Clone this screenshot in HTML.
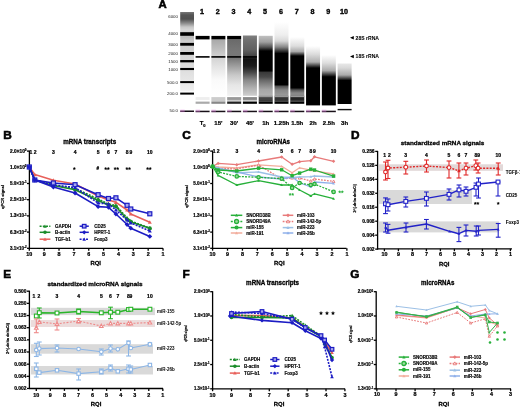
<!DOCTYPE html>
<html><head><meta charset="utf-8"><style>
html,body{margin:0;padding:0;background:#fff;width:520px;height:407px;overflow:hidden}
svg{display:block;will-change:transform}
text{font-family:"Liberation Sans",sans-serif}
</style></head><body>
<svg width="520" height="407" viewBox="0 0 520 407">
<rect width="520" height="407" fill="#fff"/>
<text x="162.50" y="8.30" font-size="11.3" text-anchor="middle" font-weight="bold" fill="#000" stroke="#000" stroke-width="0.60" >A</text>
<linearGradient id="g1" gradientUnits="userSpaceOnUse" x1="0" y1="12" x2="0" y2="92"><stop offset="0.0000" stop-color="#777"/><stop offset="0.0375" stop-color="#555"/><stop offset="0.0875" stop-color="#505050"/><stop offset="0.1375" stop-color="#888"/><stop offset="0.1875" stop-color="#c8c8c8"/><stop offset="0.2250" stop-color="#d8d8d8"/><stop offset="0.3125" stop-color="#bbb"/><stop offset="0.3625" stop-color="#ccc"/><stop offset="0.7250" stop-color="#dedede"/><stop offset="0.9750" stop-color="#eee"/><stop offset="1.0000" stop-color="#fff"/></linearGradient>
<rect x="180.20" y="12.00" width="13.80" height="80.00" fill="url(#g1)" />
<rect x="180.20" y="32.20" width="13.80" height="3.60" fill="#000" />
<rect x="180.20" y="42.90" width="13.80" height="2.80" fill="#000" />
<rect x="180.20" y="52.00" width="13.80" height="2.80" fill="#000" />
<rect x="180.20" y="60.05" width="13.80" height="2.30" fill="#000" />
<rect x="180.20" y="67.95" width="13.80" height="2.10" fill="#000" />
<rect x="180.20" y="81.10" width="13.80" height="2.00" fill="#000" />
<rect x="180.20" y="92.60" width="13.80" height="2.00" fill="#000" />
<rect x="180.20" y="110.50" width="13.80" height="1.50" fill="#181018" />
<text x="178.00" y="17.70" font-size="4.4" text-anchor="end" font-weight="normal" fill="#222" >6000</text>
<text x="178.00" y="35.10" font-size="4.4" text-anchor="end" font-weight="normal" fill="#222" >4000</text>
<text x="178.00" y="45.60" font-size="4.4" text-anchor="end" font-weight="normal" fill="#222" >3000</text>
<text x="178.00" y="55.10" font-size="4.4" text-anchor="end" font-weight="normal" fill="#222" >2000</text>
<text x="178.00" y="62.80" font-size="4.4" text-anchor="end" font-weight="normal" fill="#222" >1500</text>
<text x="178.00" y="70.50" font-size="4.4" text-anchor="end" font-weight="normal" fill="#222" >1000</text>
<text x="178.00" y="84.30" font-size="4.4" text-anchor="end" font-weight="normal" fill="#222" >500.0</text>
<text x="178.00" y="95.30" font-size="4.4" text-anchor="end" font-weight="normal" fill="#222" >200.0</text>
<text x="178.00" y="112.40" font-size="4.4" text-anchor="end" font-weight="normal" fill="#222" >50.0</text>
<rect x="195.60" y="35.90" width="14.00" height="3.50" fill="#000" />
<rect x="195.60" y="56.10" width="14.00" height="1.60" fill="#000" />
<rect x="195.60" y="95.80" width="14.00" height="1.40" fill="#fff" />
<rect x="195.60" y="97.10" width="14.00" height="2.90" fill="#eee" />
<rect x="195.60" y="99.90" width="14.00" height="1.80" fill="#fff" />
<rect x="195.60" y="101.60" width="14.00" height="2.20" fill="#aaa" />
<rect x="195.60" y="110.70" width="14.00" height="1.50" fill="#181018" />
<text x="202.00" y="14.30" font-size="7.2" text-anchor="middle" font-weight="bold" fill="#000" stroke="#000" stroke-width="0.35" >1</text>
<linearGradient id="g2" gradientUnits="userSpaceOnUse" x1="0" y1="39.4" x2="0" y2="96"><stop offset="0.0000" stop-color="#a8a8a8"/><stop offset="0.1873" stop-color="#c0c0c0"/><stop offset="0.3286" stop-color="#d4d4d4"/><stop offset="0.5053" stop-color="#e6e6e6"/><stop offset="0.7173" stop-color="#fafafa"/><stop offset="1.0000" stop-color="#fff"/></linearGradient>
<rect x="211.38" y="39.40" width="14.00" height="56.60" fill="url(#g2)" />
<rect x="211.38" y="35.90" width="14.00" height="3.50" fill="#000" />
<rect x="211.38" y="56.10" width="14.00" height="1.60" fill="#000" />
<rect x="211.38" y="95.80" width="14.00" height="1.40" fill="#fff" />
<rect x="211.38" y="97.10" width="14.00" height="2.90" fill="#ccc" />
<rect x="211.38" y="99.90" width="14.00" height="1.80" fill="#ccc" />
<rect x="211.38" y="101.60" width="14.00" height="2.20" fill="#888" />
<rect x="211.38" y="110.70" width="14.00" height="1.50" fill="#181018" />
<text x="217.78" y="14.30" font-size="7.2" text-anchor="middle" font-weight="bold" fill="#000" stroke="#000" stroke-width="0.35" >2</text>
<linearGradient id="g3" gradientUnits="userSpaceOnUse" x1="0" y1="39.4" x2="0" y2="96"><stop offset="0.0000" stop-color="#6a6a6a"/><stop offset="0.2226" stop-color="#787878"/><stop offset="0.3286" stop-color="#777"/><stop offset="0.4523" stop-color="#999"/><stop offset="0.6290" stop-color="#c8c8c8"/><stop offset="0.8057" stop-color="#e6e6e6"/><stop offset="1.0000" stop-color="#f2f2f2"/></linearGradient>
<rect x="227.16" y="39.40" width="14.00" height="56.60" fill="url(#g3)" />
<rect x="227.16" y="35.90" width="14.00" height="3.50" fill="#000" />
<rect x="227.16" y="56.10" width="14.00" height="1.60" fill="#000" />
<rect x="227.16" y="95.80" width="14.00" height="1.40" fill="#fff" />
<rect x="227.16" y="97.10" width="14.00" height="2.90" fill="#999" />
<rect x="227.16" y="99.90" width="14.00" height="1.80" fill="#ccc" />
<rect x="227.16" y="101.60" width="14.00" height="2.20" fill="#222" />
<rect x="227.16" y="110.70" width="14.00" height="1.50" fill="#181018" />
<text x="233.56" y="14.30" font-size="7.2" text-anchor="middle" font-weight="bold" fill="#000" stroke="#000" stroke-width="0.35" >3</text>
<linearGradient id="g4" gradientUnits="userSpaceOnUse" x1="0" y1="35.5" x2="0" y2="96"><stop offset="0.0000" stop-color="#808080"/><stop offset="0.0744" stop-color="#707070"/><stop offset="0.2397" stop-color="#606060"/><stop offset="0.3388" stop-color="#444"/><stop offset="0.3884" stop-color="#111"/><stop offset="0.5041" stop-color="#1c1c1c"/><stop offset="0.6033" stop-color="#444"/><stop offset="0.7355" stop-color="#888"/><stop offset="0.8678" stop-color="#b0b0b0"/><stop offset="1.0000" stop-color="#d0d0d0"/></linearGradient>
<rect x="242.94" y="35.50" width="14.00" height="60.50" fill="url(#g4)" />
<rect x="242.94" y="56.10" width="14.00" height="1.60" fill="#000" />
<rect x="242.94" y="95.80" width="14.00" height="1.40" fill="#fff" />
<rect x="242.94" y="97.10" width="14.00" height="2.90" fill="#888" />
<rect x="242.94" y="99.90" width="14.00" height="1.80" fill="#ccc" />
<rect x="242.94" y="101.60" width="14.00" height="2.20" fill="#000" />
<rect x="242.94" y="110.70" width="14.00" height="1.50" fill="#181018" />
<text x="249.34" y="14.30" font-size="7.2" text-anchor="middle" font-weight="bold" fill="#000" stroke="#000" stroke-width="0.35" >4</text>
<linearGradient id="g5" gradientUnits="userSpaceOnUse" x1="0" y1="35.8" x2="0" y2="97"><stop offset="0.0000" stop-color="#c0c0c0"/><stop offset="0.1013" stop-color="#a0a0a0"/><stop offset="0.1830" stop-color="#555"/><stop offset="0.2484" stop-color="#000"/><stop offset="0.5719" stop-color="#000"/><stop offset="0.5997" stop-color="#3a3a3a"/><stop offset="0.6732" stop-color="#4a4a4a"/><stop offset="0.7222" stop-color="#666"/><stop offset="0.8039" stop-color="#888"/><stop offset="0.8856" stop-color="#a8a8a8"/><stop offset="0.9673" stop-color="#b0b0b0"/><stop offset="1.0000" stop-color="#999"/></linearGradient>
<rect x="258.72" y="35.80" width="14.00" height="61.20" fill="url(#g5)" />
<rect x="258.72" y="95.80" width="14.00" height="1.40" fill="#999" />
<rect x="258.72" y="97.10" width="14.00" height="2.90" fill="#444" />
<rect x="258.72" y="99.90" width="14.00" height="1.80" fill="#3a3a3a" />
<rect x="258.72" y="101.60" width="14.00" height="2.20" fill="#000" />
<rect x="258.72" y="110.70" width="14.00" height="1.50" fill="#181018" />
<text x="265.12" y="14.30" font-size="7.2" text-anchor="middle" font-weight="bold" fill="#000" stroke="#000" stroke-width="0.35" >5</text>
<linearGradient id="g6" gradientUnits="userSpaceOnUse" x1="0" y1="22" x2="0" y2="97"><stop offset="0.0000" stop-color="#fff"/><stop offset="0.1733" stop-color="#eee"/><stop offset="0.2533" stop-color="#d8d8d8"/><stop offset="0.3333" stop-color="#888"/><stop offset="0.4200" stop-color="#000"/><stop offset="0.8347" stop-color="#000"/><stop offset="0.8600" stop-color="#555"/><stop offset="0.9067" stop-color="#888"/><stop offset="0.9733" stop-color="#999"/><stop offset="1.0000" stop-color="#777"/></linearGradient>
<rect x="274.50" y="22.00" width="14.00" height="75.00" fill="url(#g6)" />
<rect x="274.50" y="95.80" width="14.00" height="1.40" fill="#999" />
<rect x="274.50" y="97.10" width="14.00" height="2.90" fill="#333" />
<rect x="274.50" y="99.90" width="14.00" height="1.80" fill="#3a3a3a" />
<rect x="274.50" y="101.60" width="14.00" height="2.20" fill="#000" />
<rect x="274.50" y="110.70" width="14.00" height="1.50" fill="#181018" />
<text x="280.90" y="14.30" font-size="7.2" text-anchor="middle" font-weight="bold" fill="#000" stroke="#000" stroke-width="0.35" >6</text>
<linearGradient id="g7" gradientUnits="userSpaceOnUse" x1="0" y1="37" x2="0" y2="97"><stop offset="0.0000" stop-color="#fff"/><stop offset="0.1500" stop-color="#ddd"/><stop offset="0.2417" stop-color="#aaa"/><stop offset="0.3167" stop-color="#000"/><stop offset="0.8467" stop-color="#000"/><stop offset="0.8833" stop-color="#555"/><stop offset="0.9333" stop-color="#888"/><stop offset="0.9667" stop-color="#888"/><stop offset="1.0000" stop-color="#666"/></linearGradient>
<rect x="290.28" y="37.00" width="14.00" height="60.00" fill="url(#g7)" />
<rect x="290.28" y="95.80" width="14.00" height="1.40" fill="#999" />
<rect x="290.28" y="97.10" width="14.00" height="2.90" fill="#222" />
<rect x="290.28" y="99.90" width="14.00" height="1.80" fill="#3a3a3a" />
<rect x="290.28" y="101.60" width="14.00" height="2.20" fill="#000" />
<rect x="290.28" y="110.70" width="14.00" height="1.50" fill="#181018" />
<text x="296.68" y="14.30" font-size="7.2" text-anchor="middle" font-weight="bold" fill="#000" stroke="#000" stroke-width="0.35" >7</text>
<linearGradient id="g8" gradientUnits="userSpaceOnUse" x1="0" y1="46" x2="0" y2="96"><stop offset="0.0000" stop-color="#fff"/><stop offset="0.1600" stop-color="#ddd"/><stop offset="0.3200" stop-color="#b0b0b0"/><stop offset="0.4400" stop-color="#000"/><stop offset="1.0000" stop-color="#000"/></linearGradient>
<rect x="306.06" y="46.00" width="14.00" height="50.00" fill="url(#g8)" />
<rect x="306.06" y="96.00" width="14.00" height="9.40" fill="#000" />
<rect x="306.06" y="110.70" width="14.00" height="1.50" fill="#181018" />
<text x="312.46" y="14.30" font-size="7.2" text-anchor="middle" font-weight="bold" fill="#000" stroke="#000" stroke-width="0.35" >8</text>
<linearGradient id="g9" gradientUnits="userSpaceOnUse" x1="0" y1="55" x2="0" y2="96"><stop offset="0.0000" stop-color="#fff"/><stop offset="0.1951" stop-color="#ddd"/><stop offset="0.3805" stop-color="#aaa"/><stop offset="0.5317" stop-color="#000"/><stop offset="1.0000" stop-color="#000"/></linearGradient>
<rect x="321.84" y="55.00" width="14.00" height="41.00" fill="url(#g9)" />
<rect x="321.84" y="96.00" width="14.00" height="9.40" fill="#000" />
<rect x="321.84" y="110.70" width="14.00" height="1.50" fill="#181018" />
<text x="328.24" y="14.30" font-size="7.2" text-anchor="middle" font-weight="bold" fill="#000" stroke="#000" stroke-width="0.35" >9</text>
<linearGradient id="g10" gradientUnits="userSpaceOnUse" x1="0" y1="63.5" x2="0" y2="96"><stop offset="0.0000" stop-color="#e8e8e8"/><stop offset="0.1385" stop-color="#d8d8d8"/><stop offset="0.3538" stop-color="#aaa"/><stop offset="0.5231" stop-color="#000"/><stop offset="1.0000" stop-color="#000"/></linearGradient>
<rect x="337.62" y="63.50" width="14.00" height="32.50" fill="url(#g10)" />
<rect x="337.62" y="96.00" width="14.00" height="8.00" fill="#000" />
<rect x="337.62" y="108.90" width="14.00" height="1.40" fill="#111" />
<text x="344.02" y="14.30" font-size="7.2" text-anchor="middle" font-weight="bold" fill="#000" stroke="#000" stroke-width="0.35" >10</text>
<rect x="180.20" y="109.60" width="4.50" height="2.60" fill="#e080e0" opacity="0.4"/>
<rect x="195.60" y="109.60" width="4.50" height="2.60" fill="#e080e0" opacity="0.4"/>
<rect x="211.38" y="109.60" width="4.50" height="2.60" fill="#e080e0" opacity="0.4"/>
<rect x="227.16" y="109.60" width="4.50" height="2.60" fill="#e080e0" opacity="0.4"/>
<rect x="242.94" y="109.60" width="4.50" height="2.60" fill="#e080e0" opacity="0.4"/>
<rect x="258.72" y="109.60" width="4.50" height="2.60" fill="#e080e0" opacity="0.4"/>
<rect x="274.50" y="109.60" width="4.50" height="2.60" fill="#e080e0" opacity="0.4"/>
<rect x="290.28" y="109.60" width="4.50" height="2.60" fill="#e080e0" opacity="0.4"/>
<rect x="306.06" y="109.60" width="4.50" height="2.60" fill="#e080e0" opacity="0.4"/>
<rect x="321.84" y="109.60" width="4.50" height="2.60" fill="#e080e0" opacity="0.4"/>
<text x="202.60" y="125.00" font-size="6.0" text-anchor="middle" font-weight="bold" fill="#000" stroke="#000" stroke-width="0.22" >T<tspan font-size="4" dy="1.6">0</tspan></text>
<text x="218.38" y="125.00" font-size="6.0" text-anchor="middle" font-weight="bold" fill="#000" stroke="#000" stroke-width="0.22" >15'</text>
<text x="234.16" y="125.00" font-size="6.0" text-anchor="middle" font-weight="bold" fill="#000" stroke="#000" stroke-width="0.22" >30'</text>
<text x="249.94" y="125.00" font-size="6.0" text-anchor="middle" font-weight="bold" fill="#000" stroke="#000" stroke-width="0.22" >45'</text>
<text x="265.72" y="125.00" font-size="6.0" text-anchor="middle" font-weight="bold" fill="#000" stroke="#000" stroke-width="0.22" >1h</text>
<text x="281.50" y="125.00" font-size="6.0" text-anchor="middle" font-weight="bold" fill="#000" stroke="#000" stroke-width="0.22" >1.25h</text>
<text x="297.28" y="125.00" font-size="6.0" text-anchor="middle" font-weight="bold" fill="#000" stroke="#000" stroke-width="0.22" >1.5h</text>
<text x="313.06" y="125.00" font-size="6.0" text-anchor="middle" font-weight="bold" fill="#000" stroke="#000" stroke-width="0.22" >2h</text>
<text x="328.84" y="125.00" font-size="6.0" text-anchor="middle" font-weight="bold" fill="#000" stroke="#000" stroke-width="0.22" >2.5h</text>
<text x="344.62" y="125.00" font-size="6.0" text-anchor="middle" font-weight="bold" fill="#000" stroke="#000" stroke-width="0.22" >3h</text>
<path d="M350,37.7 L353.8,35.900000000000006 L353.8,39.5Z" fill="#000"/>
<text x="355.60" y="39.50" font-size="5.0" text-anchor="start" font-weight="bold" fill="#000" stroke="#000" stroke-width="0.05" textLength="23.4" lengthAdjust="spacingAndGlyphs">28S rRNA</text>
<path d="M350,56.5 L353.8,54.7 L353.8,58.3Z" fill="#000"/>
<text x="355.60" y="58.30" font-size="5.0" text-anchor="start" font-weight="bold" fill="#000" stroke="#000" stroke-width="0.05" textLength="23.4" lengthAdjust="spacingAndGlyphs">18S rRNA</text>
<text x="7.60" y="139.10" font-size="11.8" text-anchor="middle" font-weight="bold" fill="#000" stroke="#000" stroke-width="0.60" >B</text>
<line x1="29.40" y1="150.60" x2="29.40" y2="248.80" stroke="#000" stroke-width="1.3" />
<line x1="27.00" y1="151.10" x2="29.40" y2="151.10" stroke="#000" stroke-width="1.3" />
<text x="26.60" y="152.50" font-size="4.9" text-anchor="end" font-weight="bold" fill="#000" stroke="#000" stroke-width="0.22" textLength="16.5" lengthAdjust="spacingAndGlyphs">2.0×10<tspan font-size="3.2" dy="-1.6">0</tspan></text>
<line x1="27.00" y1="167.30" x2="29.40" y2="167.30" stroke="#000" stroke-width="1.3" />
<text x="26.60" y="168.70" font-size="4.9" text-anchor="end" font-weight="bold" fill="#000" stroke="#000" stroke-width="0.22" textLength="16.5" lengthAdjust="spacingAndGlyphs">1.0×10<tspan font-size="3.2" dy="-1.6">0</tspan></text>
<line x1="27.00" y1="183.50" x2="29.40" y2="183.50" stroke="#000" stroke-width="1.3" />
<text x="26.60" y="184.90" font-size="4.9" text-anchor="end" font-weight="bold" fill="#000" stroke="#000" stroke-width="0.22" textLength="16.5" lengthAdjust="spacingAndGlyphs">5.0×10<tspan font-size="3.2" dy="-1.6">-1</tspan></text>
<line x1="27.00" y1="199.70" x2="29.40" y2="199.70" stroke="#000" stroke-width="1.3" />
<text x="26.60" y="201.10" font-size="4.9" text-anchor="end" font-weight="bold" fill="#000" stroke="#000" stroke-width="0.22" textLength="16.5" lengthAdjust="spacingAndGlyphs">2.5×10<tspan font-size="3.2" dy="-1.6">-1</tspan></text>
<line x1="27.00" y1="215.90" x2="29.40" y2="215.90" stroke="#000" stroke-width="1.3" />
<text x="26.60" y="217.30" font-size="4.9" text-anchor="end" font-weight="bold" fill="#000" stroke="#000" stroke-width="0.22" textLength="16.5" lengthAdjust="spacingAndGlyphs">1.3×10<tspan font-size="3.2" dy="-1.6">-1</tspan></text>
<line x1="27.00" y1="232.10" x2="29.40" y2="232.10" stroke="#000" stroke-width="1.3" />
<text x="26.60" y="233.50" font-size="4.9" text-anchor="end" font-weight="bold" fill="#000" stroke="#000" stroke-width="0.22" textLength="16.5" lengthAdjust="spacingAndGlyphs">6.3×10<tspan font-size="3.2" dy="-1.6">-2</tspan></text>
<line x1="27.00" y1="248.30" x2="29.40" y2="248.30" stroke="#000" stroke-width="1.3" />
<text x="26.60" y="249.70" font-size="4.9" text-anchor="end" font-weight="bold" fill="#000" stroke="#000" stroke-width="0.22" textLength="16.5" lengthAdjust="spacingAndGlyphs">3.1×10<tspan font-size="3.2" dy="-1.6">-2</tspan></text>
<line x1="29.00" y1="248.30" x2="163.00" y2="248.30" stroke="#000" stroke-width="1.3" />
<line x1="29.30" y1="248.30" x2="29.30" y2="250.70" stroke="#000" stroke-width="1.3" />
<text x="29.30" y="256.40" font-size="5.4" text-anchor="middle" font-weight="bold" fill="#000" stroke="#000" stroke-width="0.24" >10</text>
<line x1="44.16" y1="248.30" x2="44.16" y2="250.70" stroke="#000" stroke-width="1.3" />
<text x="44.16" y="256.40" font-size="5.4" text-anchor="middle" font-weight="bold" fill="#000" stroke="#000" stroke-width="0.24" >9</text>
<line x1="59.02" y1="248.30" x2="59.02" y2="250.70" stroke="#000" stroke-width="1.3" />
<text x="59.02" y="256.40" font-size="5.4" text-anchor="middle" font-weight="bold" fill="#000" stroke="#000" stroke-width="0.24" >8</text>
<line x1="73.88" y1="248.30" x2="73.88" y2="250.70" stroke="#000" stroke-width="1.3" />
<text x="73.88" y="256.40" font-size="5.4" text-anchor="middle" font-weight="bold" fill="#000" stroke="#000" stroke-width="0.24" >7</text>
<line x1="88.74" y1="248.30" x2="88.74" y2="250.70" stroke="#000" stroke-width="1.3" />
<text x="88.74" y="256.40" font-size="5.4" text-anchor="middle" font-weight="bold" fill="#000" stroke="#000" stroke-width="0.24" >6</text>
<line x1="103.60" y1="248.30" x2="103.60" y2="250.70" stroke="#000" stroke-width="1.3" />
<text x="103.60" y="256.40" font-size="5.4" text-anchor="middle" font-weight="bold" fill="#000" stroke="#000" stroke-width="0.24" >5</text>
<line x1="118.46" y1="248.30" x2="118.46" y2="250.70" stroke="#000" stroke-width="1.3" />
<text x="118.46" y="256.40" font-size="5.4" text-anchor="middle" font-weight="bold" fill="#000" stroke="#000" stroke-width="0.24" >4</text>
<line x1="133.32" y1="248.30" x2="133.32" y2="250.70" stroke="#000" stroke-width="1.3" />
<text x="133.32" y="256.40" font-size="5.4" text-anchor="middle" font-weight="bold" fill="#000" stroke="#000" stroke-width="0.24" >3</text>
<line x1="148.18" y1="248.30" x2="148.18" y2="250.70" stroke="#000" stroke-width="1.3" />
<text x="148.18" y="256.40" font-size="5.4" text-anchor="middle" font-weight="bold" fill="#000" stroke="#000" stroke-width="0.24" >2</text>
<line x1="163.04" y1="248.30" x2="163.04" y2="250.70" stroke="#000" stroke-width="1.3" />
<text x="163.04" y="256.40" font-size="5.4" text-anchor="middle" font-weight="bold" fill="#000" stroke="#000" stroke-width="0.24" >1</text>
<text x="95.70" y="265.40" font-size="5.9" text-anchor="middle" font-weight="bold" fill="#000" stroke="#000" stroke-width="0.27" >RQI</text>
<text x="4.40" y="197.00" font-size="4.0" text-anchor="middle" font-weight="bold" fill="#000" stroke="#000" stroke-width="0.18" transform="rotate(-90 4.4 197)" textLength="24" lengthAdjust="spacingAndGlyphs">qPCR signal</text>
<text x="89.70" y="143.90" font-size="6.4" text-anchor="middle" font-weight="bold" fill="#000" stroke="#000" stroke-width="0.29" textLength="53" lengthAdjust="spacingAndGlyphs">mRNA transcripts</text>
<text x="30.90" y="153.60" font-size="5.0" text-anchor="middle" font-weight="bold" fill="#000" stroke="#000" stroke-width="0.22" >1</text>
<text x="35.10" y="153.60" font-size="5.0" text-anchor="middle" font-weight="bold" fill="#000" stroke="#000" stroke-width="0.22" >2</text>
<text x="53.37" y="153.60" font-size="5.0" text-anchor="middle" font-weight="bold" fill="#000" stroke="#000" stroke-width="0.22" >3</text>
<text x="75.07" y="153.60" font-size="5.0" text-anchor="middle" font-weight="bold" fill="#000" stroke="#000" stroke-width="0.22" >4</text>
<text x="98.10" y="153.60" font-size="5.0" text-anchor="middle" font-weight="bold" fill="#000" stroke="#000" stroke-width="0.22" >5</text>
<text x="108.50" y="153.60" font-size="5.0" text-anchor="middle" font-weight="bold" fill="#000" stroke="#000" stroke-width="0.22" >6</text>
<text x="115.93" y="153.60" font-size="5.0" text-anchor="middle" font-weight="bold" fill="#000" stroke="#000" stroke-width="0.22" >7</text>
<text x="127.08" y="153.60" font-size="5.0" text-anchor="middle" font-weight="bold" fill="#000" stroke="#000" stroke-width="0.22" >8</text>
<text x="130.79" y="153.60" font-size="5.0" text-anchor="middle" font-weight="bold" fill="#000" stroke="#000" stroke-width="0.22" >9</text>
<text x="149.81" y="153.60" font-size="5.0" text-anchor="middle" font-weight="bold" fill="#000" stroke="#000" stroke-width="0.22" >10</text>
<polygon points="74.30,167.17 74.72,168.02 75.66,168.16 74.98,168.82 75.14,169.75 74.30,169.31 73.46,169.75 73.62,168.82 72.94,168.16 73.88,168.02" fill="#000" stroke="#000" stroke-width="0.3"/>
<text x="97.70" y="170.40" font-size="4.6" text-anchor="middle" font-weight="bold" fill="#000" stroke="#000" stroke-width="0.21" >#</text>
<polygon points="105.70,167.17 106.12,168.02 107.06,168.16 106.38,168.82 106.54,169.75 105.70,169.31 104.86,169.75 105.02,168.82 104.34,168.16 105.28,168.02" fill="#000" stroke="#000" stroke-width="0.3"/>
<polygon points="108.30,167.17 108.72,168.02 109.66,168.16 108.98,168.82 109.14,169.75 108.30,169.31 107.46,169.75 107.62,168.82 106.94,168.16 107.88,168.02" fill="#000" stroke="#000" stroke-width="0.3"/>
<polygon points="115.10,167.17 115.52,168.02 116.46,168.16 115.78,168.82 115.94,169.75 115.10,169.31 114.26,169.75 114.42,168.82 113.74,168.16 114.68,168.02" fill="#000" stroke="#000" stroke-width="0.3"/>
<polygon points="117.70,167.17 118.12,168.02 119.06,168.16 118.38,168.82 118.54,169.75 117.70,169.31 116.86,169.75 117.02,168.82 116.34,168.16 117.28,168.02" fill="#000" stroke="#000" stroke-width="0.3"/>
<polygon points="126.90,167.17 127.32,168.02 128.26,168.16 127.58,168.82 127.74,169.75 126.90,169.31 126.06,169.75 126.22,168.82 125.54,168.16 126.48,168.02" fill="#000" stroke="#000" stroke-width="0.3"/>
<polygon points="129.50,167.17 129.92,168.02 130.86,168.16 130.18,168.82 130.34,169.75 129.50,169.31 128.66,169.75 128.82,168.82 128.14,168.16 129.08,168.02" fill="#000" stroke="#000" stroke-width="0.3"/>
<polygon points="147.60,167.17 148.02,168.02 148.96,168.16 148.28,168.82 148.44,169.75 147.60,169.31 146.76,169.75 146.92,168.82 146.24,168.16 147.18,168.02" fill="#000" stroke="#000" stroke-width="0.3"/>
<polygon points="150.20,167.17 150.62,168.02 151.56,168.16 150.88,168.82 151.04,169.75 150.20,169.31 149.36,169.75 149.52,168.82 148.84,168.16 149.78,168.02" fill="#000" stroke="#000" stroke-width="0.3"/>
<polyline points="29.30,167.00 34.80,174.60 53.37,180.30 75.07,184.00 98.10,196.00 108.50,200.00 115.93,202.30 127.08,210.00 130.79,214.00 149.81,222.20" fill="none" stroke="#e8605a" stroke-width="1.6" stroke-linejoin="round" />
<path d="M29.30,165.00 L31.30,168.60 L27.30,168.60Z" fill="#e8605a"/>
<path d="M34.80,172.60 L36.80,176.20 L32.80,176.20Z" fill="#e8605a"/>
<path d="M53.37,178.30 L55.37,181.90 L51.37,181.90Z" fill="#e8605a"/>
<path d="M75.07,182.00 L77.07,185.60 L73.07,185.60Z" fill="#e8605a"/>
<path d="M98.10,194.00 L100.10,197.60 L96.10,197.60Z" fill="#e8605a"/>
<path d="M108.50,198.00 L110.50,201.60 L106.50,201.60Z" fill="#e8605a"/>
<path d="M115.93,200.30 L117.93,203.90 L113.93,203.90Z" fill="#e8605a"/>
<path d="M127.08,208.00 L129.08,211.60 L125.08,211.60Z" fill="#e8605a"/>
<path d="M130.79,212.00 L132.79,215.60 L128.79,215.60Z" fill="#e8605a"/>
<path d="M149.81,220.20 L151.81,223.80 L147.81,223.80Z" fill="#e8605a"/>
<polyline points="29.30,167.00 34.80,180.00 53.37,185.00 75.07,188.50 98.10,199.00 108.50,204.00 115.93,205.50 127.08,218.00 130.79,221.00 149.81,228.20" fill="none" stroke="#1a8c2a" stroke-width="1.6" stroke-linejoin="round" stroke-dasharray="2,1.2" />
<path d="M29.30,165.00 L31.30,168.60 L27.30,168.60Z" fill="#1a8c2a"/>
<path d="M34.80,178.00 L36.80,181.60 L32.80,181.60Z" fill="#1a8c2a"/>
<path d="M53.37,183.00 L55.37,186.60 L51.37,186.60Z" fill="#1a8c2a"/>
<path d="M75.07,186.50 L77.07,190.10 L73.07,190.10Z" fill="#1a8c2a"/>
<path d="M98.10,197.00 L100.10,200.60 L96.10,200.60Z" fill="#1a8c2a"/>
<path d="M108.50,202.00 L110.50,205.60 L106.50,205.60Z" fill="#1a8c2a"/>
<path d="M115.93,203.50 L117.93,207.10 L113.93,207.10Z" fill="#1a8c2a"/>
<path d="M127.08,216.00 L129.08,219.60 L125.08,219.60Z" fill="#1a8c2a"/>
<path d="M130.79,219.00 L132.79,222.60 L128.79,222.60Z" fill="#1a8c2a"/>
<path d="M149.81,226.20 L151.81,229.80 L147.81,229.80Z" fill="#1a8c2a"/>
<polyline points="29.30,167.00 34.80,180.00 53.37,185.50 75.07,189.70 98.10,200.50 108.50,205.00 115.93,206.60 127.08,219.50 130.79,222.00 149.81,228.20" fill="none" stroke="#1a8c2a" stroke-width="1.6" stroke-linejoin="round" />
<circle cx="29.30" cy="167.00" r="2.00" fill="#1a8c2a"/>
<circle cx="34.80" cy="180.00" r="2.00" fill="#1a8c2a"/>
<circle cx="53.37" cy="185.50" r="2.00" fill="#1a8c2a"/>
<circle cx="75.07" cy="189.70" r="2.00" fill="#1a8c2a"/>
<circle cx="98.10" cy="200.50" r="2.00" fill="#1a8c2a"/>
<circle cx="108.50" cy="205.00" r="2.00" fill="#1a8c2a"/>
<circle cx="115.93" cy="206.60" r="2.00" fill="#1a8c2a"/>
<circle cx="127.08" cy="219.50" r="2.00" fill="#1a8c2a"/>
<circle cx="130.79" cy="222.00" r="2.00" fill="#1a8c2a"/>
<circle cx="149.81" cy="228.20" r="2.00" fill="#1a8c2a"/>
<polyline points="29.30,167.00 34.80,180.00 53.37,185.00 75.07,187.50 98.10,203.00 108.50,204.00 115.93,210.00 127.08,220.00 130.79,223.00 149.81,231.00" fill="none" stroke="#1c1cc4" stroke-width="1.6" stroke-linejoin="round" stroke-dasharray="2,1.2" />
<path d="M29.30,165.00 L31.30,168.60 L27.30,168.60Z" fill="#1c1cc4"/>
<path d="M34.80,178.00 L36.80,181.60 L32.80,181.60Z" fill="#1c1cc4"/>
<path d="M53.37,183.00 L55.37,186.60 L51.37,186.60Z" fill="#1c1cc4"/>
<path d="M75.07,185.50 L77.07,189.10 L73.07,189.10Z" fill="#1c1cc4"/>
<path d="M98.10,201.00 L100.10,204.60 L96.10,204.60Z" fill="#1c1cc4"/>
<path d="M108.50,202.00 L110.50,205.60 L106.50,205.60Z" fill="#1c1cc4"/>
<path d="M115.93,208.00 L117.93,211.60 L113.93,211.60Z" fill="#1c1cc4"/>
<path d="M127.08,218.00 L129.08,221.60 L125.08,221.60Z" fill="#1c1cc4"/>
<path d="M130.79,221.00 L132.79,224.60 L128.79,224.60Z" fill="#1c1cc4"/>
<path d="M149.81,229.00 L151.81,232.60 L147.81,232.60Z" fill="#1c1cc4"/>
<polyline points="29.30,167.00 34.80,180.00 53.37,183.00 75.07,184.70 98.10,194.70 108.50,198.50 115.93,197.80 127.08,205.30 130.79,209.00 149.81,213.80" fill="none" stroke="#1c1cc4" stroke-width="1.6" stroke-linejoin="round" />
<rect x="27.30" y="165.00" width="4.00" height="4.00" fill="#a8a8ec" stroke="#1c1cc4" stroke-width="1.2"/>
<rect x="32.80" y="178.00" width="4.00" height="4.00" fill="#a8a8ec" stroke="#1c1cc4" stroke-width="1.2"/>
<rect x="51.37" y="181.00" width="4.00" height="4.00" fill="#a8a8ec" stroke="#1c1cc4" stroke-width="1.2"/>
<rect x="73.07" y="182.70" width="4.00" height="4.00" fill="#a8a8ec" stroke="#1c1cc4" stroke-width="1.2"/>
<rect x="96.10" y="192.70" width="4.00" height="4.00" fill="#a8a8ec" stroke="#1c1cc4" stroke-width="1.2"/>
<rect x="106.50" y="196.50" width="4.00" height="4.00" fill="#a8a8ec" stroke="#1c1cc4" stroke-width="1.2"/>
<rect x="113.93" y="195.80" width="4.00" height="4.00" fill="#a8a8ec" stroke="#1c1cc4" stroke-width="1.2"/>
<rect x="125.08" y="203.30" width="4.00" height="4.00" fill="#a8a8ec" stroke="#1c1cc4" stroke-width="1.2"/>
<rect x="128.79" y="207.00" width="4.00" height="4.00" fill="#a8a8ec" stroke="#1c1cc4" stroke-width="1.2"/>
<rect x="147.81" y="211.80" width="4.00" height="4.00" fill="#a8a8ec" stroke="#1c1cc4" stroke-width="1.2"/>
<polyline points="29.30,167.00 34.80,180.00 53.37,187.00 75.07,193.00 98.10,206.60 108.50,207.30 115.93,214.00 127.08,224.50 130.79,228.20 149.81,236.40" fill="none" stroke="#1c1cc4" stroke-width="1.6" stroke-linejoin="round" />
<path d="M29.30,164.60 L31.70,167.00 L29.30,169.40 L26.90,167.00Z" fill="#1c1cc4"/>
<path d="M34.80,177.60 L37.20,180.00 L34.80,182.40 L32.40,180.00Z" fill="#1c1cc4"/>
<path d="M53.37,184.60 L55.77,187.00 L53.37,189.40 L50.97,187.00Z" fill="#1c1cc4"/>
<path d="M75.07,190.60 L77.47,193.00 L75.07,195.40 L72.67,193.00Z" fill="#1c1cc4"/>
<path d="M98.10,204.20 L100.50,206.60 L98.10,209.00 L95.70,206.60Z" fill="#1c1cc4"/>
<path d="M108.50,204.90 L110.90,207.30 L108.50,209.70 L106.10,207.30Z" fill="#1c1cc4"/>
<path d="M115.93,211.60 L118.33,214.00 L115.93,216.40 L113.53,214.00Z" fill="#1c1cc4"/>
<path d="M127.08,222.10 L129.48,224.50 L127.08,226.90 L124.68,224.50Z" fill="#1c1cc4"/>
<path d="M130.79,225.80 L133.19,228.20 L130.79,230.60 L128.39,228.20Z" fill="#1c1cc4"/>
<path d="M149.81,234.00 L152.21,236.40 L149.81,238.80 L147.41,236.40Z" fill="#1c1cc4"/>
<line x1="39.60" y1="226.20" x2="50.40" y2="226.20" stroke="#1a8c2a" stroke-width="1.5" stroke-dasharray="2,1.2" />
<path d="M45.00,224.40 L46.80,227.64 L43.20,227.64Z" fill="#1a8c2a"/>
<text x="55.00" y="227.80" font-size="4.5" text-anchor="start" font-weight="bold" fill="#000" stroke="#000" stroke-width="0.14" >GAPDH</text>
<line x1="39.60" y1="232.30" x2="50.40" y2="232.30" stroke="#1a8c2a" stroke-width="1.5" />
<circle cx="45.00" cy="232.30" r="1.80" fill="#1a8c2a"/>
<text x="55.00" y="233.90" font-size="4.5" text-anchor="start" font-weight="bold" fill="#000" stroke="#000" stroke-width="0.14" >B-actin</text>
<line x1="39.60" y1="239.20" x2="50.40" y2="239.20" stroke="#e8605a" stroke-width="1.5" />
<path d="M45.00,237.40 L46.80,240.64 L43.20,240.64Z" fill="#e8605a"/>
<text x="55.00" y="240.80" font-size="4.5" text-anchor="start" font-weight="bold" fill="#000" stroke="#000" stroke-width="0.14" >TGF-b1</text>
<line x1="79.60" y1="226.20" x2="88.80" y2="226.20" stroke="#1c1cc4" stroke-width="1.5" />
<rect x="82.40" y="224.40" width="3.60" height="3.60" fill="#a8a8ec" stroke="#1c1cc4" stroke-width="1.2"/>
<text x="94.20" y="227.80" font-size="4.5" text-anchor="start" font-weight="bold" fill="#000" stroke="#000" stroke-width="0.14" >CD25</text>
<line x1="79.60" y1="232.30" x2="88.80" y2="232.30" stroke="#1c1cc4" stroke-width="1.5" />
<path d="M84.20,230.14 L86.36,232.30 L84.20,234.46 L82.04,232.30Z" fill="#1c1cc4"/>
<text x="94.20" y="233.90" font-size="4.5" text-anchor="start" font-weight="bold" fill="#000" stroke="#000" stroke-width="0.14" >HPRT-1</text>
<line x1="79.60" y1="239.20" x2="88.80" y2="239.20" stroke="#1c1cc4" stroke-width="1.5" stroke-dasharray="2,1.2" />
<path d="M84.20,237.40 L86.00,240.64 L82.40,240.64Z" fill="#1c1cc4"/>
<text x="94.20" y="240.80" font-size="4.5" text-anchor="start" font-weight="bold" fill="#000" stroke="#000" stroke-width="0.14" >Foxp3</text>
<text x="186.60" y="139.00" font-size="11.8" text-anchor="middle" font-weight="bold" fill="#000" stroke="#000" stroke-width="0.60" >C</text>
<line x1="212.60" y1="150.60" x2="212.60" y2="248.80" stroke="#000" stroke-width="1.3" />
<line x1="210.20" y1="151.10" x2="212.60" y2="151.10" stroke="#000" stroke-width="1.3" />
<text x="209.80" y="152.50" font-size="4.9" text-anchor="end" font-weight="bold" fill="#000" stroke="#000" stroke-width="0.22" textLength="16.5" lengthAdjust="spacingAndGlyphs">2.0×10<tspan font-size="3.2" dy="-1.6">0</tspan></text>
<line x1="210.20" y1="167.30" x2="212.60" y2="167.30" stroke="#000" stroke-width="1.3" />
<text x="209.80" y="168.70" font-size="4.9" text-anchor="end" font-weight="bold" fill="#000" stroke="#000" stroke-width="0.22" textLength="16.5" lengthAdjust="spacingAndGlyphs">1.0×10<tspan font-size="3.2" dy="-1.6">0</tspan></text>
<line x1="210.20" y1="183.50" x2="212.60" y2="183.50" stroke="#000" stroke-width="1.3" />
<text x="209.80" y="184.90" font-size="4.9" text-anchor="end" font-weight="bold" fill="#000" stroke="#000" stroke-width="0.22" textLength="16.5" lengthAdjust="spacingAndGlyphs">5.0×10<tspan font-size="3.2" dy="-1.6">-1</tspan></text>
<line x1="210.20" y1="199.70" x2="212.60" y2="199.70" stroke="#000" stroke-width="1.3" />
<text x="209.80" y="201.10" font-size="4.9" text-anchor="end" font-weight="bold" fill="#000" stroke="#000" stroke-width="0.22" textLength="16.5" lengthAdjust="spacingAndGlyphs">2.5×10<tspan font-size="3.2" dy="-1.6">-1</tspan></text>
<line x1="210.20" y1="215.90" x2="212.60" y2="215.90" stroke="#000" stroke-width="1.3" />
<text x="209.80" y="217.30" font-size="4.9" text-anchor="end" font-weight="bold" fill="#000" stroke="#000" stroke-width="0.22" textLength="16.5" lengthAdjust="spacingAndGlyphs">1.3×10<tspan font-size="3.2" dy="-1.6">-1</tspan></text>
<line x1="210.20" y1="232.10" x2="212.60" y2="232.10" stroke="#000" stroke-width="1.3" />
<text x="209.80" y="233.50" font-size="4.9" text-anchor="end" font-weight="bold" fill="#000" stroke="#000" stroke-width="0.22" textLength="16.5" lengthAdjust="spacingAndGlyphs">6.3×10<tspan font-size="3.2" dy="-1.6">-2</tspan></text>
<line x1="210.20" y1="248.30" x2="212.60" y2="248.30" stroke="#000" stroke-width="1.3" />
<text x="209.80" y="249.70" font-size="4.9" text-anchor="end" font-weight="bold" fill="#000" stroke="#000" stroke-width="0.22" textLength="16.5" lengthAdjust="spacingAndGlyphs">3.1×10<tspan font-size="3.2" dy="-1.6">-2</tspan></text>
<line x1="212.10" y1="248.30" x2="346.50" y2="248.30" stroke="#000" stroke-width="1.3" />
<line x1="212.60" y1="248.30" x2="212.60" y2="250.70" stroke="#000" stroke-width="1.3" />
<text x="212.60" y="256.40" font-size="5.4" text-anchor="middle" font-weight="bold" fill="#000" stroke="#000" stroke-width="0.24" >10</text>
<line x1="227.52" y1="248.30" x2="227.52" y2="250.70" stroke="#000" stroke-width="1.3" />
<text x="227.52" y="256.40" font-size="5.4" text-anchor="middle" font-weight="bold" fill="#000" stroke="#000" stroke-width="0.24" >9</text>
<line x1="242.44" y1="248.30" x2="242.44" y2="250.70" stroke="#000" stroke-width="1.3" />
<text x="242.44" y="256.40" font-size="5.4" text-anchor="middle" font-weight="bold" fill="#000" stroke="#000" stroke-width="0.24" >8</text>
<line x1="257.36" y1="248.30" x2="257.36" y2="250.70" stroke="#000" stroke-width="1.3" />
<text x="257.36" y="256.40" font-size="5.4" text-anchor="middle" font-weight="bold" fill="#000" stroke="#000" stroke-width="0.24" >7</text>
<line x1="272.28" y1="248.30" x2="272.28" y2="250.70" stroke="#000" stroke-width="1.3" />
<text x="272.28" y="256.40" font-size="5.4" text-anchor="middle" font-weight="bold" fill="#000" stroke="#000" stroke-width="0.24" >6</text>
<line x1="287.20" y1="248.30" x2="287.20" y2="250.70" stroke="#000" stroke-width="1.3" />
<text x="287.20" y="256.40" font-size="5.4" text-anchor="middle" font-weight="bold" fill="#000" stroke="#000" stroke-width="0.24" >5</text>
<line x1="302.12" y1="248.30" x2="302.12" y2="250.70" stroke="#000" stroke-width="1.3" />
<text x="302.12" y="256.40" font-size="5.4" text-anchor="middle" font-weight="bold" fill="#000" stroke="#000" stroke-width="0.24" >4</text>
<line x1="317.04" y1="248.30" x2="317.04" y2="250.70" stroke="#000" stroke-width="1.3" />
<text x="317.04" y="256.40" font-size="5.4" text-anchor="middle" font-weight="bold" fill="#000" stroke="#000" stroke-width="0.24" >3</text>
<line x1="331.96" y1="248.30" x2="331.96" y2="250.70" stroke="#000" stroke-width="1.3" />
<text x="331.96" y="256.40" font-size="5.4" text-anchor="middle" font-weight="bold" fill="#000" stroke="#000" stroke-width="0.24" >2</text>
<line x1="346.88" y1="248.30" x2="346.88" y2="250.70" stroke="#000" stroke-width="1.3" />
<text x="346.88" y="256.40" font-size="5.4" text-anchor="middle" font-weight="bold" fill="#000" stroke="#000" stroke-width="0.24" >1</text>
<text x="279.30" y="265.40" font-size="5.9" text-anchor="middle" font-weight="bold" fill="#000" stroke="#000" stroke-width="0.27" >RQI</text>
<text x="188.00" y="196.50" font-size="4.0" text-anchor="middle" font-weight="bold" fill="#000" stroke="#000" stroke-width="0.18" transform="rotate(-90 188.0 196.5)" textLength="22.5" lengthAdjust="spacingAndGlyphs">qPCR signal</text>
<text x="273.30" y="144.00" font-size="6.4" text-anchor="middle" font-weight="bold" fill="#000" stroke="#000" stroke-width="0.29" textLength="33.5" lengthAdjust="spacingAndGlyphs">microRNAs</text>
<text x="214.20" y="153.20" font-size="5.0" text-anchor="middle" font-weight="bold" fill="#000" stroke="#000" stroke-width="0.22" >1</text>
<text x="218.12" y="153.20" font-size="5.0" text-anchor="middle" font-weight="bold" fill="#000" stroke="#000" stroke-width="0.22" >2</text>
<text x="236.77" y="153.20" font-size="5.0" text-anchor="middle" font-weight="bold" fill="#000" stroke="#000" stroke-width="0.22" >3</text>
<text x="258.55" y="153.20" font-size="5.0" text-anchor="middle" font-weight="bold" fill="#000" stroke="#000" stroke-width="0.22" >4</text>
<text x="281.68" y="153.20" font-size="5.0" text-anchor="middle" font-weight="bold" fill="#000" stroke="#000" stroke-width="0.22" >5</text>
<text x="292.12" y="153.20" font-size="5.0" text-anchor="middle" font-weight="bold" fill="#000" stroke="#000" stroke-width="0.22" >6</text>
<text x="299.58" y="153.20" font-size="5.0" text-anchor="middle" font-weight="bold" fill="#000" stroke="#000" stroke-width="0.22" >7</text>
<text x="310.77" y="153.20" font-size="5.0" text-anchor="middle" font-weight="bold" fill="#000" stroke="#000" stroke-width="0.22" >8</text>
<text x="314.50" y="153.20" font-size="5.0" text-anchor="middle" font-weight="bold" fill="#000" stroke="#000" stroke-width="0.22" >9</text>
<text x="333.60" y="153.20" font-size="5.0" text-anchor="middle" font-weight="bold" fill="#000" stroke="#000" stroke-width="0.22" >10</text>
<polyline points="212.60,166.50 218.12,167.00 236.77,168.00 258.55,164.90 281.68,166.30 292.12,172.80 299.58,167.80 310.77,170.20 314.50,170.80 333.60,174.00" fill="none" stroke="#f2ad9c" stroke-width="1.3" stroke-linejoin="round" />
<path d="M212.60,165.10 L214.00,167.62 L211.20,167.62Z" fill="#f2ad9c"/>
<path d="M218.12,165.60 L219.52,168.12 L216.72,168.12Z" fill="#f2ad9c"/>
<path d="M236.77,166.60 L238.17,169.12 L235.37,169.12Z" fill="#f2ad9c"/>
<path d="M258.55,163.50 L259.95,166.02 L257.15,166.02Z" fill="#f2ad9c"/>
<path d="M281.68,164.90 L283.08,167.42 L280.28,167.42Z" fill="#f2ad9c"/>
<path d="M292.12,171.40 L293.52,173.92 L290.72,173.92Z" fill="#f2ad9c"/>
<path d="M299.58,166.40 L300.98,168.92 L298.18,168.92Z" fill="#f2ad9c"/>
<path d="M310.77,168.80 L312.17,171.32 L309.37,171.32Z" fill="#f2ad9c"/>
<path d="M314.50,169.40 L315.90,171.92 L313.10,171.92Z" fill="#f2ad9c"/>
<path d="M333.60,172.60 L335.00,175.12 L332.20,175.12Z" fill="#f2ad9c"/>
<polyline points="212.60,166.50 218.12,163.40 236.77,164.70 258.55,161.00 281.68,157.00 292.12,164.30 299.58,161.70 310.77,160.70 314.50,156.80 333.60,161.30" fill="none" stroke="#e87a7a" stroke-width="1.3" stroke-linejoin="round" />
<path d="M212.60,164.82 L214.28,166.50 L212.60,168.18 L210.92,166.50Z" fill="#e87a7a"/>
<path d="M218.12,161.72 L219.80,163.40 L218.12,165.08 L216.44,163.40Z" fill="#e87a7a"/>
<path d="M236.77,163.02 L238.45,164.70 L236.77,166.38 L235.09,164.70Z" fill="#e87a7a"/>
<path d="M258.55,159.32 L260.23,161.00 L258.55,162.68 L256.87,161.00Z" fill="#e87a7a"/>
<path d="M281.68,155.32 L283.36,157.00 L281.68,158.68 L280.00,157.00Z" fill="#e87a7a"/>
<path d="M292.12,162.62 L293.80,164.30 L292.12,165.98 L290.44,164.30Z" fill="#e87a7a"/>
<path d="M299.58,160.02 L301.26,161.70 L299.58,163.38 L297.90,161.70Z" fill="#e87a7a"/>
<path d="M310.77,159.02 L312.45,160.70 L310.77,162.38 L309.09,160.70Z" fill="#e87a7a"/>
<path d="M314.50,155.12 L316.18,156.80 L314.50,158.48 L312.82,156.80Z" fill="#e87a7a"/>
<path d="M333.60,159.62 L335.28,161.30 L333.60,162.98 L331.92,161.30Z" fill="#e87a7a"/>
<polyline points="212.60,166.50 218.12,168.50 236.77,168.90 258.55,165.00 281.68,179.00 292.12,178.00 299.58,178.00 310.77,181.00 314.50,179.00 333.60,181.40" fill="none" stroke="#e87a7a" stroke-width="1.3" stroke-linejoin="round" stroke-dasharray="1.8,1.2" />
<path d="M212.60,165.10 L214.00,167.62 L211.20,167.62Z" fill="#fff" stroke="#e87a7a" stroke-width="0.9"/>
<path d="M218.12,167.10 L219.52,169.62 L216.72,169.62Z" fill="#fff" stroke="#e87a7a" stroke-width="0.9"/>
<path d="M236.77,167.50 L238.17,170.02 L235.37,170.02Z" fill="#fff" stroke="#e87a7a" stroke-width="0.9"/>
<path d="M258.55,163.60 L259.95,166.12 L257.15,166.12Z" fill="#fff" stroke="#e87a7a" stroke-width="0.9"/>
<path d="M281.68,177.60 L283.08,180.12 L280.28,180.12Z" fill="#fff" stroke="#e87a7a" stroke-width="0.9"/>
<path d="M292.12,176.60 L293.52,179.12 L290.72,179.12Z" fill="#fff" stroke="#e87a7a" stroke-width="0.9"/>
<path d="M299.58,176.60 L300.98,179.12 L298.18,179.12Z" fill="#fff" stroke="#e87a7a" stroke-width="0.9"/>
<path d="M310.77,179.60 L312.17,182.12 L309.37,182.12Z" fill="#fff" stroke="#e87a7a" stroke-width="0.9"/>
<path d="M314.50,177.60 L315.90,180.12 L313.10,180.12Z" fill="#fff" stroke="#e87a7a" stroke-width="0.9"/>
<path d="M333.60,180.00 L335.00,182.52 L332.20,182.52Z" fill="#fff" stroke="#e87a7a" stroke-width="0.9"/>
<polyline points="212.60,166.50 218.12,168.00 236.77,172.60 258.55,172.00 281.68,177.00 292.12,177.50 299.58,177.00 310.77,176.70 314.50,176.00 333.60,177.00" fill="none" stroke="#9cc0e6" stroke-width="1.3" stroke-linejoin="round" />
<path d="M212.60,165.10 L214.00,167.62 L211.20,167.62Z" fill="#9cc0e6"/>
<path d="M218.12,166.60 L219.52,169.12 L216.72,169.12Z" fill="#9cc0e6"/>
<path d="M236.77,171.20 L238.17,173.72 L235.37,173.72Z" fill="#9cc0e6"/>
<path d="M258.55,170.60 L259.95,173.12 L257.15,173.12Z" fill="#9cc0e6"/>
<path d="M281.68,175.60 L283.08,178.12 L280.28,178.12Z" fill="#9cc0e6"/>
<path d="M292.12,176.10 L293.52,178.62 L290.72,178.62Z" fill="#9cc0e6"/>
<path d="M299.58,175.60 L300.98,178.12 L298.18,178.12Z" fill="#9cc0e6"/>
<path d="M310.77,175.30 L312.17,177.82 L309.37,177.82Z" fill="#9cc0e6"/>
<path d="M314.50,174.60 L315.90,177.12 L313.10,177.12Z" fill="#9cc0e6"/>
<path d="M333.60,175.60 L335.00,178.12 L332.20,178.12Z" fill="#9cc0e6"/>
<polyline points="212.60,166.50 218.12,168.50 236.77,172.00 258.55,177.00 281.68,179.00 292.12,177.00 299.58,182.60 310.77,187.00 314.50,182.00 333.60,183.40" fill="none" stroke="#8fb0ea" stroke-width="1.3" stroke-linejoin="round" />
<path d="M212.60,165.10 L214.00,167.62 L211.20,167.62Z" fill="#8fb0ea"/>
<path d="M218.12,167.10 L219.52,169.62 L216.72,169.62Z" fill="#8fb0ea"/>
<path d="M236.77,170.60 L238.17,173.12 L235.37,173.12Z" fill="#8fb0ea"/>
<path d="M258.55,175.60 L259.95,178.12 L257.15,178.12Z" fill="#8fb0ea"/>
<path d="M281.68,177.60 L283.08,180.12 L280.28,180.12Z" fill="#8fb0ea"/>
<path d="M292.12,175.60 L293.52,178.12 L290.72,178.12Z" fill="#8fb0ea"/>
<path d="M299.58,181.20 L300.98,183.72 L298.18,183.72Z" fill="#8fb0ea"/>
<path d="M310.77,185.60 L312.17,188.12 L309.37,188.12Z" fill="#8fb0ea"/>
<path d="M314.50,180.60 L315.90,183.12 L313.10,183.12Z" fill="#8fb0ea"/>
<path d="M333.60,182.00 L335.00,184.52 L332.20,184.52Z" fill="#8fb0ea"/>
<polyline points="212.60,166.50 218.12,171.90 236.77,176.40 258.55,177.30 281.68,178.70 292.12,187.90 299.58,183.00 310.77,185.00 314.50,184.00 333.60,191.90" fill="none" stroke="#27b03a" stroke-width="1.3" stroke-linejoin="round" stroke-dasharray="2,1.2" />
<circle cx="212.60" cy="166.50" r="1.70" fill="#9edc9e" stroke="#27b03a" stroke-width="1.3"/>
<circle cx="218.12" cy="171.90" r="1.70" fill="#9edc9e" stroke="#27b03a" stroke-width="1.3"/>
<circle cx="236.77" cy="176.40" r="1.70" fill="#9edc9e" stroke="#27b03a" stroke-width="1.3"/>
<circle cx="258.55" cy="177.30" r="1.70" fill="#9edc9e" stroke="#27b03a" stroke-width="1.3"/>
<circle cx="281.68" cy="178.70" r="1.70" fill="#9edc9e" stroke="#27b03a" stroke-width="1.3"/>
<circle cx="292.12" cy="187.90" r="1.70" fill="#9edc9e" stroke="#27b03a" stroke-width="1.3"/>
<circle cx="299.58" cy="183.00" r="1.70" fill="#9edc9e" stroke="#27b03a" stroke-width="1.3"/>
<circle cx="310.77" cy="185.00" r="1.70" fill="#9edc9e" stroke="#27b03a" stroke-width="1.3"/>
<circle cx="314.50" cy="184.00" r="1.70" fill="#9edc9e" stroke="#27b03a" stroke-width="1.3"/>
<circle cx="333.60" cy="191.90" r="1.70" fill="#9edc9e" stroke="#27b03a" stroke-width="1.3"/>
<polyline points="212.60,166.50 218.12,175.30 236.77,185.00 258.55,180.70 281.68,185.00 292.12,185.00 299.58,190.00 310.77,195.80 314.50,193.80 333.60,198.70" fill="none" stroke="#27b03a" stroke-width="1.3" stroke-linejoin="round" />
<path d="M212.60,165.10 L214.00,167.62 L211.20,167.62Z" fill="#27b03a"/>
<path d="M218.12,173.90 L219.52,176.42 L216.72,176.42Z" fill="#27b03a"/>
<path d="M236.77,183.60 L238.17,186.12 L235.37,186.12Z" fill="#27b03a"/>
<path d="M258.55,179.30 L259.95,181.82 L257.15,181.82Z" fill="#27b03a"/>
<path d="M281.68,183.60 L283.08,186.12 L280.28,186.12Z" fill="#27b03a"/>
<path d="M292.12,183.60 L293.52,186.12 L290.72,186.12Z" fill="#27b03a"/>
<path d="M299.58,188.60 L300.98,191.12 L298.18,191.12Z" fill="#27b03a"/>
<path d="M310.77,194.40 L312.17,196.92 L309.37,196.92Z" fill="#27b03a"/>
<path d="M314.50,192.40 L315.90,194.92 L313.10,194.92Z" fill="#27b03a"/>
<path d="M333.60,197.30 L335.00,199.82 L332.20,199.82Z" fill="#27b03a"/>
<polyline points="212.60,166.50 218.12,170.00 236.77,171.00 258.55,168.20 281.68,169.80 292.12,175.70 299.58,173.10 310.77,169.20 314.50,170.00 333.60,176.10" fill="none" stroke="#27b03a" stroke-width="1.3" stroke-linejoin="round" />
<rect x="210.90" y="164.80" width="3.40" height="3.40" fill="#27b03a"/>
<rect x="216.42" y="168.30" width="3.40" height="3.40" fill="#27b03a"/>
<rect x="235.07" y="169.30" width="3.40" height="3.40" fill="#27b03a"/>
<rect x="256.85" y="166.50" width="3.40" height="3.40" fill="#27b03a"/>
<rect x="279.98" y="168.10" width="3.40" height="3.40" fill="#27b03a"/>
<rect x="290.42" y="174.00" width="3.40" height="3.40" fill="#27b03a"/>
<rect x="297.88" y="171.40" width="3.40" height="3.40" fill="#27b03a"/>
<rect x="309.07" y="167.50" width="3.40" height="3.40" fill="#27b03a"/>
<rect x="312.80" y="168.30" width="3.40" height="3.40" fill="#27b03a"/>
<rect x="331.90" y="174.40" width="3.40" height="3.40" fill="#27b03a"/>
<polygon points="290.10,193.05 290.50,193.85 291.38,193.98 290.74,194.61 290.89,195.49 290.10,195.08 289.31,195.49 289.46,194.61 288.82,193.98 289.70,193.85" fill="#27b03a" stroke="#27b03a" stroke-width="0.3"/>
<polygon points="292.70,193.05 293.10,193.85 293.98,193.98 293.34,194.61 293.49,195.49 292.70,195.08 291.91,195.49 292.06,194.61 291.42,193.98 292.30,193.85" fill="#27b03a" stroke="#27b03a" stroke-width="0.3"/>
<polygon points="339.70,190.55 340.10,191.35 340.98,191.48 340.34,192.11 340.49,192.99 339.70,192.58 338.91,192.99 339.06,192.11 338.42,191.48 339.30,191.35" fill="#27b03a" stroke="#27b03a" stroke-width="0.3"/>
<polygon points="342.30,190.55 342.70,191.35 343.58,191.48 342.94,192.11 343.09,192.99 342.30,192.58 341.51,192.99 341.66,192.11 341.02,191.48 341.90,191.35" fill="#27b03a" stroke="#27b03a" stroke-width="0.3"/>
<line x1="230.80" y1="215.30" x2="242.30" y2="215.30" stroke="#27b03a" stroke-width="1.5" />
<path d="M236.55,213.70 L238.15,216.58 L234.95,216.58Z" fill="#27b03a"/>
<text x="246.20" y="216.90" font-size="4.5" text-anchor="start" font-weight="bold" fill="#000" stroke="#000" stroke-width="0.14" >SNORD38B</text>
<line x1="230.80" y1="221.50" x2="242.30" y2="221.50" stroke="#27b03a" stroke-width="1.5" stroke-dasharray="2,1.2" />
<circle cx="236.55" cy="221.50" r="2.00" fill="#9edc9e" stroke="#27b03a" stroke-width="1.3"/>
<text x="246.20" y="223.10" font-size="4.5" text-anchor="start" font-weight="bold" fill="#000" stroke="#000" stroke-width="0.14" >SNORD49A</text>
<line x1="230.80" y1="227.60" x2="242.30" y2="227.60" stroke="#27b03a" stroke-width="1.5" />
<circle cx="236.55" cy="227.60" r="2.00" fill="#27b03a"/>
<text x="246.20" y="229.20" font-size="4.5" text-anchor="start" font-weight="bold" fill="#000" stroke="#000" stroke-width="0.14" >miR-155</text>
<line x1="230.80" y1="233.00" x2="242.30" y2="233.00" stroke="#f2ad9c" stroke-width="1.5" />
<path d="M236.55,231.40 L238.15,234.28 L234.95,234.28Z" fill="#f2ad9c"/>
<text x="246.20" y="234.60" font-size="4.5" text-anchor="start" font-weight="bold" fill="#000" stroke="#000" stroke-width="0.14" >miR-191</text>
<line x1="282.70" y1="215.30" x2="293.30" y2="215.30" stroke="#e87a7a" stroke-width="1.5" />
<path d="M288.00,213.38 L289.92,215.30 L288.00,217.22 L286.08,215.30Z" fill="#e87a7a"/>
<text x="297.10" y="216.90" font-size="4.5" text-anchor="start" font-weight="bold" fill="#000" stroke="#000" stroke-width="0.14" >miR-103</text>
<line x1="282.70" y1="221.50" x2="293.30" y2="221.50" stroke="#e87a7a" stroke-width="1.5" stroke-dasharray="1.8,1.2" />
<path d="M288.00,219.90 L289.60,222.78 L286.40,222.78Z" fill="#fff" stroke="#e87a7a" stroke-width="0.9"/>
<text x="297.10" y="223.10" font-size="4.5" text-anchor="start" font-weight="bold" fill="#000" stroke="#000" stroke-width="0.14" >miR-142-5p</text>
<line x1="282.70" y1="227.60" x2="293.30" y2="227.60" stroke="#9cc0e6" stroke-width="1.5" />
<path d="M288.00,226.00 L289.60,228.88 L286.40,228.88Z" fill="#9cc0e6"/>
<text x="297.10" y="229.20" font-size="4.5" text-anchor="start" font-weight="bold" fill="#000" stroke="#000" stroke-width="0.14" >miR-223</text>
<line x1="282.70" y1="233.00" x2="293.30" y2="233.00" stroke="#8fb0ea" stroke-width="1.5" />
<path d="M288.00,231.40 L289.60,234.28 L286.40,234.28Z" fill="#8fb0ea"/>
<text x="297.10" y="234.60" font-size="4.5" text-anchor="start" font-weight="bold" fill="#000" stroke="#000" stroke-width="0.14" >miR-26b</text>
<text x="355.30" y="139.00" font-size="11.8" text-anchor="middle" font-weight="bold" fill="#000" stroke="#000" stroke-width="0.60" >D</text>
<line x1="377.60" y1="150.90" x2="377.60" y2="249.60" stroke="#000" stroke-width="1.3" />
<line x1="375.20" y1="151.40" x2="377.60" y2="151.40" stroke="#000" stroke-width="1.3" />
<text x="374.60" y="152.80" font-size="4.9" text-anchor="end" font-weight="bold" fill="#000" stroke="#000" stroke-width="0.22" >0.256</text>
<line x1="375.20" y1="165.36" x2="377.60" y2="165.36" stroke="#000" stroke-width="1.3" />
<text x="374.60" y="166.76" font-size="4.9" text-anchor="end" font-weight="bold" fill="#000" stroke="#000" stroke-width="0.22" >0.128</text>
<line x1="375.20" y1="179.32" x2="377.60" y2="179.32" stroke="#000" stroke-width="1.3" />
<text x="374.60" y="180.72" font-size="4.9" text-anchor="end" font-weight="bold" fill="#000" stroke="#000" stroke-width="0.22" >0.064</text>
<line x1="375.20" y1="193.28" x2="377.60" y2="193.28" stroke="#000" stroke-width="1.3" />
<text x="374.60" y="194.68" font-size="4.9" text-anchor="end" font-weight="bold" fill="#000" stroke="#000" stroke-width="0.22" >0.032</text>
<line x1="375.20" y1="207.24" x2="377.60" y2="207.24" stroke="#000" stroke-width="1.3" />
<text x="374.60" y="208.64" font-size="4.9" text-anchor="end" font-weight="bold" fill="#000" stroke="#000" stroke-width="0.22" >0.016</text>
<line x1="375.20" y1="221.20" x2="377.60" y2="221.20" stroke="#000" stroke-width="1.3" />
<text x="374.60" y="222.60" font-size="4.9" text-anchor="end" font-weight="bold" fill="#000" stroke="#000" stroke-width="0.22" >0.008</text>
<line x1="375.20" y1="235.16" x2="377.60" y2="235.16" stroke="#000" stroke-width="1.3" />
<text x="374.60" y="236.56" font-size="4.9" text-anchor="end" font-weight="bold" fill="#000" stroke="#000" stroke-width="0.22" >0.004</text>
<line x1="375.20" y1="249.12" x2="377.60" y2="249.12" stroke="#000" stroke-width="1.3" />
<text x="374.60" y="250.52" font-size="4.9" text-anchor="end" font-weight="bold" fill="#000" stroke="#000" stroke-width="0.22" >0.002</text>
<line x1="377.10" y1="248.80" x2="512.00" y2="248.80" stroke="#000" stroke-width="1.3" />
<line x1="384.40" y1="248.80" x2="384.40" y2="251.20" stroke="#000" stroke-width="1.3" />
<text x="384.40" y="256.30" font-size="5.4" text-anchor="middle" font-weight="bold" fill="#000" stroke="#000" stroke-width="0.24" >10</text>
<line x1="398.40" y1="248.80" x2="398.40" y2="251.20" stroke="#000" stroke-width="1.3" />
<text x="398.40" y="256.30" font-size="5.4" text-anchor="middle" font-weight="bold" fill="#000" stroke="#000" stroke-width="0.24" >9</text>
<line x1="412.40" y1="248.80" x2="412.40" y2="251.20" stroke="#000" stroke-width="1.3" />
<text x="412.40" y="256.30" font-size="5.4" text-anchor="middle" font-weight="bold" fill="#000" stroke="#000" stroke-width="0.24" >8</text>
<line x1="426.40" y1="248.80" x2="426.40" y2="251.20" stroke="#000" stroke-width="1.3" />
<text x="426.40" y="256.30" font-size="5.4" text-anchor="middle" font-weight="bold" fill="#000" stroke="#000" stroke-width="0.24" >7</text>
<line x1="440.40" y1="248.80" x2="440.40" y2="251.20" stroke="#000" stroke-width="1.3" />
<text x="440.40" y="256.30" font-size="5.4" text-anchor="middle" font-weight="bold" fill="#000" stroke="#000" stroke-width="0.24" >6</text>
<line x1="454.40" y1="248.80" x2="454.40" y2="251.20" stroke="#000" stroke-width="1.3" />
<text x="454.40" y="256.30" font-size="5.4" text-anchor="middle" font-weight="bold" fill="#000" stroke="#000" stroke-width="0.24" >5</text>
<line x1="468.40" y1="248.80" x2="468.40" y2="251.20" stroke="#000" stroke-width="1.3" />
<text x="468.40" y="256.30" font-size="5.4" text-anchor="middle" font-weight="bold" fill="#000" stroke="#000" stroke-width="0.24" >4</text>
<line x1="482.40" y1="248.80" x2="482.40" y2="251.20" stroke="#000" stroke-width="1.3" />
<text x="482.40" y="256.30" font-size="5.4" text-anchor="middle" font-weight="bold" fill="#000" stroke="#000" stroke-width="0.24" >3</text>
<line x1="496.40" y1="248.80" x2="496.40" y2="251.20" stroke="#000" stroke-width="1.3" />
<text x="496.40" y="256.30" font-size="5.4" text-anchor="middle" font-weight="bold" fill="#000" stroke="#000" stroke-width="0.24" >2</text>
<line x1="510.40" y1="248.80" x2="510.40" y2="251.20" stroke="#000" stroke-width="1.3" />
<text x="510.40" y="256.30" font-size="5.4" text-anchor="middle" font-weight="bold" fill="#000" stroke="#000" stroke-width="0.24" >1</text>
<text x="444.20" y="265.90" font-size="5.9" text-anchor="middle" font-weight="bold" fill="#000" stroke="#000" stroke-width="0.27" >RQI</text>
<text x="356.20" y="198.40" font-size="4.0" text-anchor="middle" font-weight="bold" fill="#000" stroke="#000" stroke-width="0.18" transform="rotate(-90 356.2 198.4)" textLength="28.4" lengthAdjust="spacingAndGlyphs">2^(-delta deltaCt)</text>
<text x="442.60" y="145.40" font-size="6.2" text-anchor="middle" font-weight="bold" fill="#000" stroke="#000" stroke-width="0.28" textLength="83.5" lengthAdjust="spacingAndGlyphs">standardized mRNA signals</text>
<text x="384.60" y="157.40" font-size="5.0" text-anchor="middle" font-weight="bold" fill="#000" stroke="#000" stroke-width="0.22" >1</text>
<text x="389.50" y="157.40" font-size="5.0" text-anchor="middle" font-weight="bold" fill="#000" stroke="#000" stroke-width="0.22" >2</text>
<text x="405.60" y="157.40" font-size="5.0" text-anchor="middle" font-weight="bold" fill="#000" stroke="#000" stroke-width="0.22" >3</text>
<text x="426.30" y="157.40" font-size="5.0" text-anchor="middle" font-weight="bold" fill="#000" stroke="#000" stroke-width="0.22" >4</text>
<text x="449.00" y="157.40" font-size="5.0" text-anchor="middle" font-weight="bold" fill="#000" stroke="#000" stroke-width="0.22" >5</text>
<text x="458.90" y="157.40" font-size="5.0" text-anchor="middle" font-weight="bold" fill="#000" stroke="#000" stroke-width="0.22" >6</text>
<text x="466.00" y="157.40" font-size="5.0" text-anchor="middle" font-weight="bold" fill="#000" stroke="#000" stroke-width="0.22" >7</text>
<text x="475.80" y="157.40" font-size="5.0" text-anchor="middle" font-weight="bold" fill="#000" stroke="#000" stroke-width="0.22" >8</text>
<text x="478.60" y="157.40" font-size="5.0" text-anchor="middle" font-weight="bold" fill="#000" stroke="#000" stroke-width="0.22" >9</text>
<text x="498.20" y="157.40" font-size="5.0" text-anchor="middle" font-weight="bold" fill="#000" stroke="#000" stroke-width="0.22" >10</text>
<rect x="379.00" y="164.30" width="124.00" height="6.50" fill="#e2d8d8" />
<rect x="379.00" y="190.00" width="93.00" height="14.00" fill="#d9d9d9" />
<rect x="379.00" y="221.40" width="120.00" height="11.00" fill="#d9d9d9" />
<polyline points="385.50,172.00 388.00,168.00 405.80,167.20 426.50,166.00 449.00,167.60 458.90,170.80 466.00,168.20 475.80,165.70 478.10,168.20 498.20,168.20" fill="none" stroke="#e02828" stroke-width="1.4" stroke-linejoin="round" stroke-dasharray="2,1.3" />
<line x1="385.50" y1="162.00" x2="385.50" y2="180.00" stroke="#e02828" stroke-width="1.1" />
<line x1="383.10" y1="162.00" x2="387.90" y2="162.00" stroke="#e02828" stroke-width="1.1" />
<line x1="383.10" y1="180.00" x2="387.90" y2="180.00" stroke="#e02828" stroke-width="1.1" />
<line x1="388.00" y1="160.30" x2="388.00" y2="178.50" stroke="#e02828" stroke-width="1.1" />
<line x1="385.60" y1="160.30" x2="390.40" y2="160.30" stroke="#e02828" stroke-width="1.1" />
<line x1="385.60" y1="178.50" x2="390.40" y2="178.50" stroke="#e02828" stroke-width="1.1" />
<line x1="405.80" y1="161.30" x2="405.80" y2="174.00" stroke="#e02828" stroke-width="1.1" />
<line x1="403.40" y1="161.30" x2="408.20" y2="161.30" stroke="#e02828" stroke-width="1.1" />
<line x1="403.40" y1="174.00" x2="408.20" y2="174.00" stroke="#e02828" stroke-width="1.1" />
<line x1="426.50" y1="160.00" x2="426.50" y2="172.00" stroke="#e02828" stroke-width="1.1" />
<line x1="424.10" y1="160.00" x2="428.90" y2="160.00" stroke="#e02828" stroke-width="1.1" />
<line x1="424.10" y1="172.00" x2="428.90" y2="172.00" stroke="#e02828" stroke-width="1.1" />
<line x1="449.00" y1="161.00" x2="449.00" y2="178.00" stroke="#e02828" stroke-width="1.1" />
<line x1="446.60" y1="161.00" x2="451.40" y2="161.00" stroke="#e02828" stroke-width="1.1" />
<line x1="446.60" y1="178.00" x2="451.40" y2="178.00" stroke="#e02828" stroke-width="1.1" />
<line x1="458.90" y1="163.00" x2="458.90" y2="178.00" stroke="#e02828" stroke-width="1.1" />
<line x1="456.50" y1="163.00" x2="461.30" y2="163.00" stroke="#e02828" stroke-width="1.1" />
<line x1="456.50" y1="178.00" x2="461.30" y2="178.00" stroke="#e02828" stroke-width="1.1" />
<line x1="466.00" y1="163.00" x2="466.00" y2="175.00" stroke="#e02828" stroke-width="1.1" />
<line x1="463.60" y1="163.00" x2="468.40" y2="163.00" stroke="#e02828" stroke-width="1.1" />
<line x1="463.60" y1="175.00" x2="468.40" y2="175.00" stroke="#e02828" stroke-width="1.1" />
<line x1="475.80" y1="160.00" x2="475.80" y2="170.00" stroke="#e02828" stroke-width="1.1" />
<line x1="473.40" y1="160.00" x2="478.20" y2="160.00" stroke="#e02828" stroke-width="1.1" />
<line x1="473.40" y1="170.00" x2="478.20" y2="170.00" stroke="#e02828" stroke-width="1.1" />
<line x1="478.10" y1="163.00" x2="478.10" y2="173.00" stroke="#e02828" stroke-width="1.1" />
<line x1="475.70" y1="163.00" x2="480.50" y2="163.00" stroke="#e02828" stroke-width="1.1" />
<line x1="475.70" y1="173.00" x2="480.50" y2="173.00" stroke="#e02828" stroke-width="1.1" />
<line x1="498.20" y1="163.00" x2="498.20" y2="175.00" stroke="#e02828" stroke-width="1.1" />
<line x1="495.80" y1="163.00" x2="500.60" y2="163.00" stroke="#e02828" stroke-width="1.1" />
<line x1="495.80" y1="175.00" x2="500.60" y2="175.00" stroke="#e02828" stroke-width="1.1" />
<circle cx="385.50" cy="172.00" r="1.90" fill="#fff" stroke="#e02828" stroke-width="1.1"/>
<circle cx="388.00" cy="168.00" r="1.90" fill="#fff" stroke="#e02828" stroke-width="1.1"/>
<circle cx="405.80" cy="167.20" r="1.90" fill="#fff" stroke="#e02828" stroke-width="1.1"/>
<circle cx="426.50" cy="166.00" r="1.90" fill="#fff" stroke="#e02828" stroke-width="1.1"/>
<circle cx="449.00" cy="167.60" r="1.90" fill="#fff" stroke="#e02828" stroke-width="1.1"/>
<path d="M458.90,168.90 L460.80,172.32 L457.00,172.32Z" fill="#e02828"/>
<circle cx="466.00" cy="168.20" r="1.90" fill="#fff" stroke="#e02828" stroke-width="1.1"/>
<circle cx="475.80" cy="165.70" r="1.90" fill="#fff" stroke="#e02828" stroke-width="1.1"/>
<circle cx="478.10" cy="168.20" r="1.90" fill="#fff" stroke="#e02828" stroke-width="1.1"/>
<path d="M498.20,166.30 L500.10,169.72 L496.30,169.72Z" fill="#e02828"/>
<polyline points="385.50,203.80 388.00,204.70 405.80,201.40 426.40,198.40 449.00,194.40 459.00,189.90 466.00,191.30 476.00,187.30 478.50,184.00 498.00,182.00" fill="none" stroke="#2222c8" stroke-width="1.4" stroke-linejoin="round" />
<line x1="385.50" y1="197.90" x2="385.50" y2="213.60" stroke="#2222c8" stroke-width="1.1" />
<line x1="383.10" y1="197.90" x2="387.90" y2="197.90" stroke="#2222c8" stroke-width="1.1" />
<line x1="383.10" y1="213.60" x2="387.90" y2="213.60" stroke="#2222c8" stroke-width="1.1" />
<line x1="388.00" y1="199.00" x2="388.00" y2="211.00" stroke="#2222c8" stroke-width="1.1" />
<line x1="385.60" y1="199.00" x2="390.40" y2="199.00" stroke="#2222c8" stroke-width="1.1" />
<line x1="385.60" y1="211.00" x2="390.40" y2="211.00" stroke="#2222c8" stroke-width="1.1" />
<line x1="405.80" y1="197.00" x2="405.80" y2="207.00" stroke="#2222c8" stroke-width="1.1" />
<line x1="403.40" y1="197.00" x2="408.20" y2="197.00" stroke="#2222c8" stroke-width="1.1" />
<line x1="403.40" y1="207.00" x2="408.20" y2="207.00" stroke="#2222c8" stroke-width="1.1" />
<line x1="426.40" y1="192.00" x2="426.40" y2="206.00" stroke="#2222c8" stroke-width="1.1" />
<line x1="424.00" y1="192.00" x2="428.80" y2="192.00" stroke="#2222c8" stroke-width="1.1" />
<line x1="424.00" y1="206.00" x2="428.80" y2="206.00" stroke="#2222c8" stroke-width="1.1" />
<line x1="449.00" y1="189.00" x2="449.00" y2="200.00" stroke="#2222c8" stroke-width="1.1" />
<line x1="446.60" y1="189.00" x2="451.40" y2="189.00" stroke="#2222c8" stroke-width="1.1" />
<line x1="446.60" y1="200.00" x2="451.40" y2="200.00" stroke="#2222c8" stroke-width="1.1" />
<line x1="459.00" y1="185.00" x2="459.00" y2="197.00" stroke="#2222c8" stroke-width="1.1" />
<line x1="456.60" y1="185.00" x2="461.40" y2="185.00" stroke="#2222c8" stroke-width="1.1" />
<line x1="456.60" y1="197.00" x2="461.40" y2="197.00" stroke="#2222c8" stroke-width="1.1" />
<line x1="466.00" y1="187.00" x2="466.00" y2="196.00" stroke="#2222c8" stroke-width="1.1" />
<line x1="463.60" y1="187.00" x2="468.40" y2="187.00" stroke="#2222c8" stroke-width="1.1" />
<line x1="463.60" y1="196.00" x2="468.40" y2="196.00" stroke="#2222c8" stroke-width="1.1" />
<line x1="476.00" y1="183.00" x2="476.00" y2="196.00" stroke="#2222c8" stroke-width="1.1" />
<line x1="473.60" y1="183.00" x2="478.40" y2="183.00" stroke="#2222c8" stroke-width="1.1" />
<line x1="473.60" y1="196.00" x2="478.40" y2="196.00" stroke="#2222c8" stroke-width="1.1" />
<line x1="478.50" y1="178.00" x2="478.50" y2="198.00" stroke="#2222c8" stroke-width="1.1" />
<line x1="476.10" y1="178.00" x2="480.90" y2="178.00" stroke="#2222c8" stroke-width="1.1" />
<line x1="476.10" y1="198.00" x2="480.90" y2="198.00" stroke="#2222c8" stroke-width="1.1" />
<line x1="498.00" y1="182.00" x2="498.00" y2="196.00" stroke="#2222c8" stroke-width="1.1" />
<line x1="495.60" y1="182.00" x2="500.40" y2="182.00" stroke="#2222c8" stroke-width="1.1" />
<line x1="495.60" y1="196.00" x2="500.40" y2="196.00" stroke="#2222c8" stroke-width="1.1" />
<rect x="383.60" y="201.90" width="3.80" height="3.80" fill="#fff" stroke="#2222c8" stroke-width="1.1"/>
<rect x="386.10" y="202.80" width="3.80" height="3.80" fill="#fff" stroke="#2222c8" stroke-width="1.1"/>
<rect x="403.90" y="199.50" width="3.80" height="3.80" fill="#fff" stroke="#2222c8" stroke-width="1.1"/>
<rect x="424.50" y="196.50" width="3.80" height="3.80" fill="#fff" stroke="#2222c8" stroke-width="1.1"/>
<rect x="447.10" y="192.50" width="3.80" height="3.80" fill="#fff" stroke="#2222c8" stroke-width="1.1"/>
<rect x="457.10" y="188.00" width="3.80" height="3.80" fill="#fff" stroke="#2222c8" stroke-width="1.1"/>
<rect x="464.10" y="189.40" width="3.80" height="3.80" fill="#fff" stroke="#2222c8" stroke-width="1.1"/>
<rect x="474.10" y="185.40" width="3.80" height="3.80" fill="#fff" stroke="#2222c8" stroke-width="1.1"/>
<rect x="476.60" y="182.10" width="3.80" height="3.80" fill="#fff" stroke="#2222c8" stroke-width="1.1"/>
<rect x="496.10" y="180.10" width="3.80" height="3.80" fill="#fff" stroke="#2222c8" stroke-width="1.1"/>
<polyline points="385.50,227.30 388.00,230.30 406.00,227.30 426.40,224.00 449.60,231.30 458.90,233.70 466.00,230.40 476.20,231.30 478.50,230.40 498.20,229.40" fill="none" stroke="#2222c8" stroke-width="1.4" stroke-linejoin="round" />
<line x1="385.50" y1="223.00" x2="385.50" y2="232.00" stroke="#2222c8" stroke-width="1.1" />
<line x1="383.10" y1="223.00" x2="387.90" y2="223.00" stroke="#2222c8" stroke-width="1.1" />
<line x1="383.10" y1="232.00" x2="387.90" y2="232.00" stroke="#2222c8" stroke-width="1.1" />
<line x1="388.00" y1="224.40" x2="388.00" y2="233.20" stroke="#2222c8" stroke-width="1.1" />
<line x1="385.60" y1="224.40" x2="390.40" y2="224.40" stroke="#2222c8" stroke-width="1.1" />
<line x1="385.60" y1="233.20" x2="390.40" y2="233.20" stroke="#2222c8" stroke-width="1.1" />
<line x1="406.00" y1="223.00" x2="406.00" y2="232.00" stroke="#2222c8" stroke-width="1.1" />
<line x1="403.60" y1="223.00" x2="408.40" y2="223.00" stroke="#2222c8" stroke-width="1.1" />
<line x1="403.60" y1="232.00" x2="408.40" y2="232.00" stroke="#2222c8" stroke-width="1.1" />
<line x1="426.40" y1="219.50" x2="426.40" y2="229.00" stroke="#2222c8" stroke-width="1.1" />
<line x1="424.00" y1="219.50" x2="428.80" y2="219.50" stroke="#2222c8" stroke-width="1.1" />
<line x1="424.00" y1="229.00" x2="428.80" y2="229.00" stroke="#2222c8" stroke-width="1.1" />
<line x1="458.90" y1="227.40" x2="458.90" y2="241.60" stroke="#2222c8" stroke-width="1.1" />
<line x1="456.50" y1="227.40" x2="461.30" y2="227.40" stroke="#2222c8" stroke-width="1.1" />
<line x1="456.50" y1="241.60" x2="461.30" y2="241.60" stroke="#2222c8" stroke-width="1.1" />
<line x1="466.00" y1="225.00" x2="466.00" y2="236.00" stroke="#2222c8" stroke-width="1.1" />
<line x1="463.60" y1="225.00" x2="468.40" y2="225.00" stroke="#2222c8" stroke-width="1.1" />
<line x1="463.60" y1="236.00" x2="468.40" y2="236.00" stroke="#2222c8" stroke-width="1.1" />
<line x1="476.20" y1="226.00" x2="476.20" y2="236.00" stroke="#2222c8" stroke-width="1.1" />
<line x1="473.80" y1="226.00" x2="478.60" y2="226.00" stroke="#2222c8" stroke-width="1.1" />
<line x1="473.80" y1="236.00" x2="478.60" y2="236.00" stroke="#2222c8" stroke-width="1.1" />
<line x1="478.50" y1="226.00" x2="478.50" y2="235.00" stroke="#2222c8" stroke-width="1.1" />
<line x1="476.10" y1="226.00" x2="480.90" y2="226.00" stroke="#2222c8" stroke-width="1.1" />
<line x1="476.10" y1="235.00" x2="480.90" y2="235.00" stroke="#2222c8" stroke-width="1.1" />
<line x1="498.20" y1="223.50" x2="498.20" y2="237.20" stroke="#2222c8" stroke-width="1.1" />
<line x1="495.80" y1="223.50" x2="500.60" y2="223.50" stroke="#2222c8" stroke-width="1.1" />
<line x1="495.80" y1="237.20" x2="500.60" y2="237.20" stroke="#2222c8" stroke-width="1.1" />
<path d="M385.50,225.90 L386.90,228.42 L384.10,228.42Z" fill="#2222c8"/>
<path d="M388.00,228.90 L389.40,231.42 L386.60,231.42Z" fill="#2222c8"/>
<path d="M406.00,225.90 L407.40,228.42 L404.60,228.42Z" fill="#2222c8"/>
<path d="M426.40,222.60 L427.80,225.12 L425.00,225.12Z" fill="#2222c8"/>
<path d="M449.60,229.90 L451.00,232.42 L448.20,232.42Z" fill="#2222c8"/>
<path d="M458.90,232.30 L460.30,234.82 L457.50,234.82Z" fill="#2222c8"/>
<path d="M466.00,229.00 L467.40,231.52 L464.60,231.52Z" fill="#2222c8"/>
<path d="M476.20,229.90 L477.60,232.42 L474.80,232.42Z" fill="#2222c8"/>
<path d="M478.50,229.00 L479.90,231.52 L477.10,231.52Z" fill="#2222c8"/>
<path d="M498.20,228.00 L499.60,230.52 L496.80,230.52Z" fill="#2222c8"/>
<text x="505.70" y="174.40" font-size="4.5" text-anchor="start" font-weight="bold" fill="#000" stroke="#000" stroke-width="0.05" >TGFβ-1</text>
<text x="505.70" y="196.80" font-size="4.5" text-anchor="start" font-weight="bold" fill="#000" stroke="#000" stroke-width="0.05" >CD25</text>
<text x="505.70" y="224.10" font-size="4.5" text-anchor="start" font-weight="bold" fill="#000" stroke="#000" stroke-width="0.05" >Foxp3</text>
<polygon points="475.30,201.97 475.72,202.82 476.66,202.96 475.98,203.62 476.14,204.55 475.30,204.11 474.46,204.55 474.62,203.62 473.94,202.96 474.88,202.82" fill="#000" stroke="#000" stroke-width="0.3"/>
<polygon points="477.90,201.97 478.32,202.82 479.26,202.96 478.58,203.62 478.74,204.55 477.90,204.11 477.06,204.55 477.22,203.62 476.54,202.96 477.48,202.82" fill="#000" stroke="#000" stroke-width="0.3"/>
<polygon points="498.20,201.97 498.62,202.82 499.56,202.96 498.88,203.62 499.04,204.55 498.20,204.11 497.36,204.55 497.52,203.62 496.84,202.96 497.78,202.82" fill="#000" stroke="#000" stroke-width="0.3"/>
<text x="7.20" y="278.10" font-size="11.8" text-anchor="middle" font-weight="bold" fill="#000" stroke="#000" stroke-width="0.60" >E</text>
<line x1="29.40" y1="290.70" x2="29.40" y2="389.00" stroke="#000" stroke-width="1.3" />
<line x1="27.00" y1="291.20" x2="29.40" y2="291.20" stroke="#000" stroke-width="1.3" />
<text x="26.40" y="292.60" font-size="4.9" text-anchor="end" font-weight="bold" fill="#000" stroke="#000" stroke-width="0.22" >0.500</text>
<line x1="27.00" y1="303.36" x2="29.40" y2="303.36" stroke="#000" stroke-width="1.3" />
<text x="26.40" y="304.76" font-size="4.9" text-anchor="end" font-weight="bold" fill="#000" stroke="#000" stroke-width="0.22" >0.250</text>
<line x1="27.00" y1="315.52" x2="29.40" y2="315.52" stroke="#000" stroke-width="1.3" />
<text x="26.40" y="316.92" font-size="4.9" text-anchor="end" font-weight="bold" fill="#000" stroke="#000" stroke-width="0.22" >0.125</text>
<line x1="27.00" y1="327.68" x2="29.40" y2="327.68" stroke="#000" stroke-width="1.3" />
<text x="26.40" y="329.08" font-size="4.9" text-anchor="end" font-weight="bold" fill="#000" stroke="#000" stroke-width="0.22" >0.063</text>
<line x1="27.00" y1="339.84" x2="29.40" y2="339.84" stroke="#000" stroke-width="1.3" />
<text x="26.40" y="341.24" font-size="4.9" text-anchor="end" font-weight="bold" fill="#000" stroke="#000" stroke-width="0.22" >0.031</text>
<line x1="27.00" y1="352.00" x2="29.40" y2="352.00" stroke="#000" stroke-width="1.3" />
<text x="26.40" y="353.40" font-size="4.9" text-anchor="end" font-weight="bold" fill="#000" stroke="#000" stroke-width="0.22" >0.016</text>
<line x1="27.00" y1="364.16" x2="29.40" y2="364.16" stroke="#000" stroke-width="1.3" />
<text x="26.40" y="365.56" font-size="4.9" text-anchor="end" font-weight="bold" fill="#000" stroke="#000" stroke-width="0.22" >0.008</text>
<line x1="27.00" y1="376.32" x2="29.40" y2="376.32" stroke="#000" stroke-width="1.3" />
<text x="26.40" y="377.72" font-size="4.9" text-anchor="end" font-weight="bold" fill="#000" stroke="#000" stroke-width="0.22" >0.004</text>
<line x1="27.00" y1="388.48" x2="29.40" y2="388.48" stroke="#000" stroke-width="1.3" />
<text x="26.40" y="389.88" font-size="4.9" text-anchor="end" font-weight="bold" fill="#000" stroke="#000" stroke-width="0.22" >0.002</text>
<line x1="28.90" y1="388.50" x2="163.00" y2="388.50" stroke="#000" stroke-width="1.3" />
<line x1="36.30" y1="388.50" x2="36.30" y2="390.90" stroke="#000" stroke-width="1.3" />
<text x="36.30" y="396.60" font-size="5.4" text-anchor="middle" font-weight="bold" fill="#000" stroke="#000" stroke-width="0.24" >10</text>
<line x1="50.36" y1="388.50" x2="50.36" y2="390.90" stroke="#000" stroke-width="1.3" />
<text x="50.36" y="396.60" font-size="5.4" text-anchor="middle" font-weight="bold" fill="#000" stroke="#000" stroke-width="0.24" >9</text>
<line x1="64.42" y1="388.50" x2="64.42" y2="390.90" stroke="#000" stroke-width="1.3" />
<text x="64.42" y="396.60" font-size="5.4" text-anchor="middle" font-weight="bold" fill="#000" stroke="#000" stroke-width="0.24" >8</text>
<line x1="78.48" y1="388.50" x2="78.48" y2="390.90" stroke="#000" stroke-width="1.3" />
<text x="78.48" y="396.60" font-size="5.4" text-anchor="middle" font-weight="bold" fill="#000" stroke="#000" stroke-width="0.24" >7</text>
<line x1="92.54" y1="388.50" x2="92.54" y2="390.90" stroke="#000" stroke-width="1.3" />
<text x="92.54" y="396.60" font-size="5.4" text-anchor="middle" font-weight="bold" fill="#000" stroke="#000" stroke-width="0.24" >6</text>
<line x1="106.60" y1="388.50" x2="106.60" y2="390.90" stroke="#000" stroke-width="1.3" />
<text x="106.60" y="396.60" font-size="5.4" text-anchor="middle" font-weight="bold" fill="#000" stroke="#000" stroke-width="0.24" >5</text>
<line x1="120.66" y1="388.50" x2="120.66" y2="390.90" stroke="#000" stroke-width="1.3" />
<text x="120.66" y="396.60" font-size="5.4" text-anchor="middle" font-weight="bold" fill="#000" stroke="#000" stroke-width="0.24" >4</text>
<line x1="134.72" y1="388.50" x2="134.72" y2="390.90" stroke="#000" stroke-width="1.3" />
<text x="134.72" y="396.60" font-size="5.4" text-anchor="middle" font-weight="bold" fill="#000" stroke="#000" stroke-width="0.24" >3</text>
<line x1="148.78" y1="388.50" x2="148.78" y2="390.90" stroke="#000" stroke-width="1.3" />
<text x="148.78" y="396.60" font-size="5.4" text-anchor="middle" font-weight="bold" fill="#000" stroke="#000" stroke-width="0.24" >2</text>
<line x1="162.84" y1="388.50" x2="162.84" y2="390.90" stroke="#000" stroke-width="1.3" />
<text x="162.84" y="396.60" font-size="5.4" text-anchor="middle" font-weight="bold" fill="#000" stroke="#000" stroke-width="0.24" >1</text>
<text x="96.10" y="406.10" font-size="5.9" text-anchor="middle" font-weight="bold" fill="#000" stroke="#000" stroke-width="0.27" >RQI</text>
<text x="9.30" y="338.40" font-size="4.0" text-anchor="middle" font-weight="bold" fill="#000" stroke="#000" stroke-width="0.18" transform="rotate(-90 9.3 338.4)" textLength="31" lengthAdjust="spacingAndGlyphs">2^(-delta deltaCt)</text>
<text x="95.00" y="285.60" font-size="6.2" text-anchor="middle" font-weight="bold" fill="#000" stroke="#000" stroke-width="0.28" textLength="95" lengthAdjust="spacingAndGlyphs">standardized microRNA signals</text>
<text x="34.00" y="298.20" font-size="5.0" text-anchor="middle" font-weight="bold" fill="#000" stroke="#000" stroke-width="0.22" >1</text>
<text x="39.00" y="298.20" font-size="5.0" text-anchor="middle" font-weight="bold" fill="#000" stroke="#000" stroke-width="0.22" >2</text>
<text x="57.00" y="298.20" font-size="5.0" text-anchor="middle" font-weight="bold" fill="#000" stroke="#000" stroke-width="0.22" >3</text>
<text x="78.60" y="298.20" font-size="5.0" text-anchor="middle" font-weight="bold" fill="#000" stroke="#000" stroke-width="0.22" >4</text>
<text x="101.30" y="298.20" font-size="5.0" text-anchor="middle" font-weight="bold" fill="#000" stroke="#000" stroke-width="0.22" >5</text>
<text x="110.50" y="298.20" font-size="5.0" text-anchor="middle" font-weight="bold" fill="#000" stroke="#000" stroke-width="0.22" >6</text>
<text x="117.80" y="298.20" font-size="5.0" text-anchor="middle" font-weight="bold" fill="#000" stroke="#000" stroke-width="0.22" >7</text>
<text x="128.50" y="298.20" font-size="5.0" text-anchor="middle" font-weight="bold" fill="#000" stroke="#000" stroke-width="0.22" >8</text>
<text x="130.80" y="298.20" font-size="5.0" text-anchor="middle" font-weight="bold" fill="#000" stroke="#000" stroke-width="0.22" >9</text>
<text x="149.90" y="298.20" font-size="5.0" text-anchor="middle" font-weight="bold" fill="#000" stroke="#000" stroke-width="0.22" >10</text>
<rect x="31.00" y="307.80" width="124.00" height="7.30" fill="#d9d9d9" />
<rect x="31.00" y="320.00" width="124.00" height="7.00" fill="#ecdcdc" />
<rect x="31.00" y="344.20" width="122.00" height="9.50" fill="#d9d9d9" />
<rect x="31.00" y="366.00" width="122.00" height="8.50" fill="#d9d9d9" />
<polyline points="36.30,316.00 39.30,312.70 57.00,313.00 78.60,311.50 101.30,312.80 110.50,312.20 117.80,312.20 128.50,309.50 130.80,309.20 149.90,309.20" fill="none" stroke="#2ab52a" stroke-width="1.6" stroke-linejoin="round" />
<line x1="39.30" y1="308.00" x2="39.30" y2="318.00" stroke="#2ab52a" stroke-width="1.1" />
<line x1="36.90" y1="308.00" x2="41.70" y2="308.00" stroke="#2ab52a" stroke-width="1.1" />
<line x1="36.90" y1="318.00" x2="41.70" y2="318.00" stroke="#2ab52a" stroke-width="1.1" />
<line x1="78.60" y1="309.00" x2="78.60" y2="314.00" stroke="#2ab52a" stroke-width="1.1" />
<line x1="76.20" y1="309.00" x2="81.00" y2="309.00" stroke="#2ab52a" stroke-width="1.1" />
<line x1="76.20" y1="314.00" x2="81.00" y2="314.00" stroke="#2ab52a" stroke-width="1.1" />
<line x1="110.50" y1="307.20" x2="110.50" y2="318.70" stroke="#2ab52a" stroke-width="1.1" />
<line x1="108.10" y1="307.20" x2="112.90" y2="307.20" stroke="#2ab52a" stroke-width="1.1" />
<line x1="108.10" y1="318.70" x2="112.90" y2="318.70" stroke="#2ab52a" stroke-width="1.1" />
<rect x="34.40" y="314.10" width="3.80" height="3.80" fill="#fff" stroke="#2ab52a" stroke-width="1.1"/>
<rect x="37.40" y="310.80" width="3.80" height="3.80" fill="#fff" stroke="#2ab52a" stroke-width="1.1"/>
<rect x="55.10" y="311.10" width="3.80" height="3.80" fill="#fff" stroke="#2ab52a" stroke-width="1.1"/>
<rect x="76.70" y="309.60" width="3.80" height="3.80" fill="#fff" stroke="#2ab52a" stroke-width="1.1"/>
<rect x="99.40" y="310.90" width="3.80" height="3.80" fill="#fff" stroke="#2ab52a" stroke-width="1.1"/>
<rect x="108.60" y="310.30" width="3.80" height="3.80" fill="#fff" stroke="#2ab52a" stroke-width="1.1"/>
<rect x="115.90" y="310.30" width="3.80" height="3.80" fill="#fff" stroke="#2ab52a" stroke-width="1.1"/>
<rect x="126.60" y="307.60" width="3.80" height="3.80" fill="#fff" stroke="#2ab52a" stroke-width="1.1"/>
<rect x="128.90" y="307.30" width="3.80" height="3.80" fill="#fff" stroke="#2ab52a" stroke-width="1.1"/>
<rect x="148.00" y="307.30" width="3.80" height="3.80" fill="#fff" stroke="#2ab52a" stroke-width="1.1"/>
<polyline points="36.30,327.80 39.30,321.90 57.00,323.90 78.60,321.00 101.30,326.00 110.50,323.40 117.80,323.40 128.50,323.40 130.80,323.40 149.90,322.60" fill="none" stroke="#ee8a8a" stroke-width="1.1" stroke-linejoin="round" stroke-dasharray="2,1.4" />
<line x1="36.30" y1="319.00" x2="36.30" y2="332.70" stroke="#ee8a8a" stroke-width="1.1" />
<line x1="33.90" y1="319.00" x2="38.70" y2="319.00" stroke="#ee8a8a" stroke-width="1.1" />
<line x1="33.90" y1="332.70" x2="38.70" y2="332.70" stroke="#ee8a8a" stroke-width="1.1" />
<line x1="57.00" y1="319.00" x2="57.00" y2="330.00" stroke="#ee8a8a" stroke-width="1.1" />
<line x1="54.60" y1="319.00" x2="59.40" y2="319.00" stroke="#ee8a8a" stroke-width="1.1" />
<line x1="54.60" y1="330.00" x2="59.40" y2="330.00" stroke="#ee8a8a" stroke-width="1.1" />
<line x1="78.60" y1="318.50" x2="78.60" y2="323.00" stroke="#ee8a8a" stroke-width="1.1" />
<line x1="76.20" y1="318.50" x2="81.00" y2="318.50" stroke="#ee8a8a" stroke-width="1.1" />
<line x1="76.20" y1="323.00" x2="81.00" y2="323.00" stroke="#ee8a8a" stroke-width="1.1" />
<path d="M36.30,326.00 L38.10,329.24 L34.50,329.24Z" fill="#fff" stroke="#ee8a8a" stroke-width="1.1"/>
<path d="M39.30,320.10 L41.10,323.34 L37.50,323.34Z" fill="#fff" stroke="#ee8a8a" stroke-width="1.1"/>
<path d="M57.00,322.10 L58.80,325.34 L55.20,325.34Z" fill="#fff" stroke="#ee8a8a" stroke-width="1.1"/>
<path d="M78.60,319.20 L80.40,322.44 L76.80,322.44Z" fill="#fff" stroke="#ee8a8a" stroke-width="1.1"/>
<path d="M101.30,324.20 L103.10,327.44 L99.50,327.44Z" fill="#fff" stroke="#ee8a8a" stroke-width="1.1"/>
<path d="M110.50,321.60 L112.30,324.84 L108.70,324.84Z" fill="#fff" stroke="#ee8a8a" stroke-width="1.1"/>
<path d="M117.80,321.60 L119.60,324.84 L116.00,324.84Z" fill="#fff" stroke="#ee8a8a" stroke-width="1.1"/>
<path d="M128.50,321.60 L130.30,324.84 L126.70,324.84Z" fill="#fff" stroke="#ee8a8a" stroke-width="1.1"/>
<path d="M130.80,321.60 L132.60,324.84 L129.00,324.84Z" fill="#fff" stroke="#ee8a8a" stroke-width="1.1"/>
<path d="M149.90,320.80 L151.70,324.04 L148.10,324.04Z" fill="#fff" stroke="#ee8a8a" stroke-width="1.1"/>
<polyline points="36.30,349.90 39.30,348.60 57.00,348.00 78.60,349.00 101.30,351.80 110.50,348.60 117.80,349.30 128.50,342.90 130.80,348.00 149.90,344.20" fill="none" stroke="#8db6e6" stroke-width="1.1" stroke-linejoin="round" />
<line x1="36.30" y1="343.30" x2="36.30" y2="356.50" stroke="#8db6e6" stroke-width="1.1" />
<line x1="33.90" y1="343.30" x2="38.70" y2="343.30" stroke="#8db6e6" stroke-width="1.1" />
<line x1="33.90" y1="356.50" x2="38.70" y2="356.50" stroke="#8db6e6" stroke-width="1.1" />
<line x1="39.30" y1="342.00" x2="39.30" y2="355.00" stroke="#8db6e6" stroke-width="1.1" />
<line x1="36.90" y1="342.00" x2="41.70" y2="342.00" stroke="#8db6e6" stroke-width="1.1" />
<line x1="36.90" y1="355.00" x2="41.70" y2="355.00" stroke="#8db6e6" stroke-width="1.1" />
<line x1="57.00" y1="345.00" x2="57.00" y2="352.00" stroke="#8db6e6" stroke-width="1.1" />
<line x1="54.60" y1="345.00" x2="59.40" y2="345.00" stroke="#8db6e6" stroke-width="1.1" />
<line x1="54.60" y1="352.00" x2="59.40" y2="352.00" stroke="#8db6e6" stroke-width="1.1" />
<line x1="101.30" y1="349.00" x2="101.30" y2="355.00" stroke="#8db6e6" stroke-width="1.1" />
<line x1="98.90" y1="349.00" x2="103.70" y2="349.00" stroke="#8db6e6" stroke-width="1.1" />
<line x1="98.90" y1="355.00" x2="103.70" y2="355.00" stroke="#8db6e6" stroke-width="1.1" />
<line x1="110.50" y1="345.00" x2="110.50" y2="352.00" stroke="#8db6e6" stroke-width="1.1" />
<line x1="108.10" y1="345.00" x2="112.90" y2="345.00" stroke="#8db6e6" stroke-width="1.1" />
<line x1="108.10" y1="352.00" x2="112.90" y2="352.00" stroke="#8db6e6" stroke-width="1.1" />
<line x1="128.50" y1="341.00" x2="128.50" y2="356.00" stroke="#8db6e6" stroke-width="1.1" />
<line x1="126.10" y1="341.00" x2="130.90" y2="341.00" stroke="#8db6e6" stroke-width="1.1" />
<line x1="126.10" y1="356.00" x2="130.90" y2="356.00" stroke="#8db6e6" stroke-width="1.1" />
<line x1="149.90" y1="343.00" x2="149.90" y2="346.00" stroke="#8db6e6" stroke-width="1.1" />
<line x1="147.50" y1="343.00" x2="152.30" y2="343.00" stroke="#8db6e6" stroke-width="1.1" />
<line x1="147.50" y1="346.00" x2="152.30" y2="346.00" stroke="#8db6e6" stroke-width="1.1" />
<circle cx="36.30" cy="349.90" r="1.80" fill="#fff" stroke="#8db6e6" stroke-width="1.1"/>
<circle cx="39.30" cy="348.60" r="1.80" fill="#fff" stroke="#8db6e6" stroke-width="1.1"/>
<circle cx="57.00" cy="348.00" r="1.80" fill="#fff" stroke="#8db6e6" stroke-width="1.1"/>
<circle cx="78.60" cy="349.00" r="1.80" fill="#fff" stroke="#8db6e6" stroke-width="1.1"/>
<circle cx="101.30" cy="351.80" r="1.80" fill="#fff" stroke="#8db6e6" stroke-width="1.1"/>
<circle cx="110.50" cy="348.60" r="1.80" fill="#fff" stroke="#8db6e6" stroke-width="1.1"/>
<circle cx="117.80" cy="349.30" r="1.80" fill="#fff" stroke="#8db6e6" stroke-width="1.1"/>
<circle cx="128.50" cy="342.90" r="1.80" fill="#fff" stroke="#8db6e6" stroke-width="1.1"/>
<circle cx="130.80" cy="348.00" r="1.80" fill="#fff" stroke="#8db6e6" stroke-width="1.1"/>
<circle cx="149.90" cy="344.20" r="1.80" fill="#fff" stroke="#8db6e6" stroke-width="1.1"/>
<polyline points="36.30,368.80 39.30,372.60 57.00,370.30 78.60,373.60 101.30,371.70 110.50,367.90 117.80,371.30 128.50,368.80 130.80,369.50 149.90,365.00" fill="none" stroke="#8db6e6" stroke-width="1.1" stroke-linejoin="round" />
<line x1="36.30" y1="363.00" x2="36.30" y2="377.00" stroke="#8db6e6" stroke-width="1.1" />
<line x1="33.90" y1="363.00" x2="38.70" y2="363.00" stroke="#8db6e6" stroke-width="1.1" />
<line x1="33.90" y1="377.00" x2="38.70" y2="377.00" stroke="#8db6e6" stroke-width="1.1" />
<line x1="78.60" y1="369.00" x2="78.60" y2="380.00" stroke="#8db6e6" stroke-width="1.1" />
<line x1="76.20" y1="369.00" x2="81.00" y2="369.00" stroke="#8db6e6" stroke-width="1.1" />
<line x1="76.20" y1="380.00" x2="81.00" y2="380.00" stroke="#8db6e6" stroke-width="1.1" />
<line x1="101.30" y1="369.00" x2="101.30" y2="374.00" stroke="#8db6e6" stroke-width="1.1" />
<line x1="98.90" y1="369.00" x2="103.70" y2="369.00" stroke="#8db6e6" stroke-width="1.1" />
<line x1="98.90" y1="374.00" x2="103.70" y2="374.00" stroke="#8db6e6" stroke-width="1.1" />
<line x1="110.50" y1="365.00" x2="110.50" y2="371.00" stroke="#8db6e6" stroke-width="1.1" />
<line x1="108.10" y1="365.00" x2="112.90" y2="365.00" stroke="#8db6e6" stroke-width="1.1" />
<line x1="108.10" y1="371.00" x2="112.90" y2="371.00" stroke="#8db6e6" stroke-width="1.1" />
<line x1="128.50" y1="365.00" x2="128.50" y2="373.00" stroke="#8db6e6" stroke-width="1.1" />
<line x1="126.10" y1="365.00" x2="130.90" y2="365.00" stroke="#8db6e6" stroke-width="1.1" />
<line x1="126.10" y1="373.00" x2="130.90" y2="373.00" stroke="#8db6e6" stroke-width="1.1" />
<line x1="130.80" y1="366.00" x2="130.80" y2="373.00" stroke="#8db6e6" stroke-width="1.1" />
<line x1="128.40" y1="366.00" x2="133.20" y2="366.00" stroke="#8db6e6" stroke-width="1.1" />
<line x1="128.40" y1="373.00" x2="133.20" y2="373.00" stroke="#8db6e6" stroke-width="1.1" />
<rect x="34.60" y="367.10" width="3.40" height="3.40" fill="#fff" stroke="#8db6e6" stroke-width="1.1"/>
<rect x="37.60" y="370.90" width="3.40" height="3.40" fill="#fff" stroke="#8db6e6" stroke-width="1.1"/>
<rect x="55.30" y="368.60" width="3.40" height="3.40" fill="#fff" stroke="#8db6e6" stroke-width="1.1"/>
<rect x="76.90" y="371.90" width="3.40" height="3.40" fill="#fff" stroke="#8db6e6" stroke-width="1.1"/>
<rect x="99.60" y="370.00" width="3.40" height="3.40" fill="#fff" stroke="#8db6e6" stroke-width="1.1"/>
<rect x="108.80" y="366.20" width="3.40" height="3.40" fill="#fff" stroke="#8db6e6" stroke-width="1.1"/>
<rect x="116.10" y="369.60" width="3.40" height="3.40" fill="#fff" stroke="#8db6e6" stroke-width="1.1"/>
<rect x="126.80" y="367.10" width="3.40" height="3.40" fill="#fff" stroke="#8db6e6" stroke-width="1.1"/>
<rect x="129.10" y="367.80" width="3.40" height="3.40" fill="#fff" stroke="#8db6e6" stroke-width="1.1"/>
<rect x="148.20" y="363.30" width="3.40" height="3.40" fill="#fff" stroke="#8db6e6" stroke-width="1.1"/>
<text x="157.00" y="313.10" font-size="4.5" text-anchor="start" font-weight="bold" fill="#000" >miR-155</text>
<text x="157.00" y="325.40" font-size="4.5" text-anchor="start" font-weight="bold" fill="#000" >miR-142-5p</text>
<text x="157.00" y="349.90" font-size="4.5" text-anchor="start" font-weight="bold" fill="#000" >miR-223</text>
<text x="157.00" y="370.90" font-size="4.5" text-anchor="start" font-weight="bold" fill="#000" >miR-26b</text>
<text x="186.10" y="278.10" font-size="11.8" text-anchor="middle" font-weight="bold" fill="#000" stroke="#000" stroke-width="0.60" >F</text>
<line x1="212.60" y1="291.20" x2="212.60" y2="389.30" stroke="#000" stroke-width="1.3" />
<line x1="210.20" y1="291.70" x2="212.60" y2="291.70" stroke="#000" stroke-width="1.3" />
<text x="209.60" y="293.10" font-size="4.9" text-anchor="end" font-weight="bold" fill="#000" stroke="#000" stroke-width="0.22" textLength="15.5" lengthAdjust="spacingAndGlyphs">2.0×10<tspan font-size="3.2" dy="-1.6">0</tspan></text>
<line x1="210.20" y1="315.98" x2="212.60" y2="315.98" stroke="#000" stroke-width="1.3" />
<text x="209.60" y="317.38" font-size="4.9" text-anchor="end" font-weight="bold" fill="#000" stroke="#000" stroke-width="0.22" textLength="15.5" lengthAdjust="spacingAndGlyphs">1.0×10<tspan font-size="3.2" dy="-1.6">0</tspan></text>
<line x1="210.20" y1="340.26" x2="212.60" y2="340.26" stroke="#000" stroke-width="1.3" />
<text x="209.60" y="341.66" font-size="4.9" text-anchor="end" font-weight="bold" fill="#000" stroke="#000" stroke-width="0.22" textLength="15.5" lengthAdjust="spacingAndGlyphs">5.0×10<tspan font-size="3.2" dy="-1.6">-1</tspan></text>
<line x1="210.20" y1="364.54" x2="212.60" y2="364.54" stroke="#000" stroke-width="1.3" />
<text x="209.60" y="365.94" font-size="4.9" text-anchor="end" font-weight="bold" fill="#000" stroke="#000" stroke-width="0.22" textLength="15.5" lengthAdjust="spacingAndGlyphs">2.5×10<tspan font-size="3.2" dy="-1.6">-1</tspan></text>
<line x1="210.20" y1="388.82" x2="212.60" y2="388.82" stroke="#000" stroke-width="1.3" />
<text x="209.60" y="390.22" font-size="4.9" text-anchor="end" font-weight="bold" fill="#000" stroke="#000" stroke-width="0.22" textLength="15.5" lengthAdjust="spacingAndGlyphs">1.3×10<tspan font-size="3.2" dy="-1.6">-1</tspan></text>
<line x1="212.10" y1="388.80" x2="345.00" y2="388.80" stroke="#000" stroke-width="1.3" />
<line x1="212.60" y1="388.80" x2="212.60" y2="391.20" stroke="#000" stroke-width="1.3" />
<text x="212.60" y="397.20" font-size="5.4" text-anchor="middle" font-weight="bold" fill="#000" stroke="#000" stroke-width="0.24" >10</text>
<line x1="231.50" y1="388.80" x2="231.50" y2="391.20" stroke="#000" stroke-width="1.3" />
<text x="231.50" y="397.20" font-size="5.4" text-anchor="middle" font-weight="bold" fill="#000" stroke="#000" stroke-width="0.24" >9</text>
<line x1="250.40" y1="388.80" x2="250.40" y2="391.20" stroke="#000" stroke-width="1.3" />
<text x="250.40" y="397.20" font-size="5.4" text-anchor="middle" font-weight="bold" fill="#000" stroke="#000" stroke-width="0.24" >8</text>
<line x1="269.30" y1="388.80" x2="269.30" y2="391.20" stroke="#000" stroke-width="1.3" />
<text x="269.30" y="397.20" font-size="5.4" text-anchor="middle" font-weight="bold" fill="#000" stroke="#000" stroke-width="0.24" >7</text>
<line x1="288.20" y1="388.80" x2="288.20" y2="391.20" stroke="#000" stroke-width="1.3" />
<text x="288.20" y="397.20" font-size="5.4" text-anchor="middle" font-weight="bold" fill="#000" stroke="#000" stroke-width="0.24" >6</text>
<line x1="307.10" y1="388.80" x2="307.10" y2="391.20" stroke="#000" stroke-width="1.3" />
<text x="307.10" y="397.20" font-size="5.4" text-anchor="middle" font-weight="bold" fill="#000" stroke="#000" stroke-width="0.24" >5</text>
<line x1="326.00" y1="388.80" x2="326.00" y2="391.20" stroke="#000" stroke-width="1.3" />
<text x="326.00" y="397.20" font-size="5.4" text-anchor="middle" font-weight="bold" fill="#000" stroke="#000" stroke-width="0.24" >4</text>
<line x1="344.90" y1="388.80" x2="344.90" y2="391.20" stroke="#000" stroke-width="1.3" />
<text x="344.90" y="397.20" font-size="5.4" text-anchor="middle" font-weight="bold" fill="#000" stroke="#000" stroke-width="0.24" >3</text>
<text x="279.10" y="406.10" font-size="5.9" text-anchor="middle" font-weight="bold" fill="#000" stroke="#000" stroke-width="0.27" >RQI</text>
<text x="186.90" y="333.60" font-size="4.0" text-anchor="middle" font-weight="bold" fill="#000" stroke="#000" stroke-width="0.18" transform="rotate(-90 186.9 333.6)" textLength="16.5" lengthAdjust="spacingAndGlyphs">qPCR signal</text>
<text x="272.60" y="284.50" font-size="6.4" text-anchor="middle" font-weight="bold" fill="#000" stroke="#000" stroke-width="0.29" textLength="53" lengthAdjust="spacingAndGlyphs">mRNA transcripts</text>
<polyline points="231.50,315.50 262.00,315.60 292.10,318.00 305.30,327.00 321.00,336.00 324.60,342.00 332.00,352.50" fill="none" stroke="#e8605a" stroke-width="1.6" stroke-linejoin="round" />
<path d="M231.50,313.70 L233.30,316.94 L229.70,316.94Z" fill="#e8605a"/>
<path d="M262.00,313.80 L263.80,317.04 L260.20,317.04Z" fill="#e8605a"/>
<path d="M292.10,316.20 L293.90,319.44 L290.30,319.44Z" fill="#e8605a"/>
<path d="M305.30,325.20 L307.10,328.44 L303.50,328.44Z" fill="#e8605a"/>
<path d="M321.00,334.20 L322.80,337.44 L319.20,337.44Z" fill="#e8605a"/>
<path d="M324.60,340.20 L326.40,343.44 L322.80,343.44Z" fill="#e8605a"/>
<path d="M332.00,350.70 L333.80,353.94 L330.20,353.94Z" fill="#e8605a"/>
<polyline points="231.50,317.50 262.00,317.50 292.10,318.00 305.30,327.50 321.00,336.50 324.60,344.00 332.00,357.50" fill="none" stroke="#1a8c2a" stroke-width="1.6" stroke-linejoin="round" />
<circle cx="231.50" cy="317.50" r="1.80" fill="#1a8c2a"/>
<circle cx="262.00" cy="317.50" r="1.80" fill="#1a8c2a"/>
<circle cx="292.10" cy="318.00" r="1.80" fill="#1a8c2a"/>
<circle cx="305.30" cy="327.50" r="1.80" fill="#1a8c2a"/>
<circle cx="321.00" cy="336.50" r="1.80" fill="#1a8c2a"/>
<circle cx="324.60" cy="344.00" r="1.80" fill="#1a8c2a"/>
<circle cx="332.00" cy="357.50" r="1.80" fill="#1a8c2a"/>
<polyline points="231.50,314.50 262.00,316.80 292.10,315.60 305.30,325.20 321.00,336.00 324.60,343.00 332.00,357.70" fill="none" stroke="#1a8c2a" stroke-width="1.6" stroke-linejoin="round" stroke-dasharray="2,1.2" />
<path d="M231.50,312.70 L233.30,315.94 L229.70,315.94Z" fill="#1a8c2a"/>
<path d="M262.00,315.00 L263.80,318.24 L260.20,318.24Z" fill="#1a8c2a"/>
<path d="M292.10,313.80 L293.90,317.04 L290.30,317.04Z" fill="#1a8c2a"/>
<path d="M305.30,323.40 L307.10,326.64 L303.50,326.64Z" fill="#1a8c2a"/>
<path d="M321.00,334.20 L322.80,337.44 L319.20,337.44Z" fill="#1a8c2a"/>
<path d="M324.60,341.20 L326.40,344.44 L322.80,344.44Z" fill="#1a8c2a"/>
<path d="M332.00,355.90 L333.80,359.14 L330.20,359.14Z" fill="#1a8c2a"/>
<polyline points="231.50,312.00 262.00,313.50 292.10,319.20 305.30,327.60 321.00,336.00 324.60,346.90 332.00,376.90" fill="none" stroke="#1c1cc4" stroke-width="1.6" stroke-linejoin="round" stroke-dasharray="2,1.2" />
<path d="M231.50,310.20 L233.30,313.44 L229.70,313.44Z" fill="#1c1cc4"/>
<path d="M262.00,311.70 L263.80,314.94 L260.20,314.94Z" fill="#1c1cc4"/>
<path d="M292.10,317.40 L293.90,320.64 L290.30,320.64Z" fill="#1c1cc4"/>
<path d="M305.30,325.80 L307.10,329.04 L303.50,329.04Z" fill="#1c1cc4"/>
<path d="M321.00,334.20 L322.80,337.44 L319.20,337.44Z" fill="#1c1cc4"/>
<path d="M324.60,345.10 L326.40,348.34 L322.80,348.34Z" fill="#1c1cc4"/>
<path d="M332.00,375.10 L333.80,378.34 L330.20,378.34Z" fill="#1c1cc4"/>
<polyline points="230.00,316.00 262.00,320.40 292.10,322.80 305.30,330.80 321.00,338.50 324.60,342.00 332.00,360.10" fill="none" stroke="#1c1cc4" stroke-width="1.6" stroke-linejoin="round" />
<path d="M230.00,313.84 L232.16,316.00 L230.00,318.16 L227.84,316.00Z" fill="#1c1cc4"/>
<path d="M262.00,318.24 L264.16,320.40 L262.00,322.56 L259.84,320.40Z" fill="#1c1cc4"/>
<path d="M292.10,320.64 L294.26,322.80 L292.10,324.96 L289.94,322.80Z" fill="#1c1cc4"/>
<path d="M305.30,328.64 L307.46,330.80 L305.30,332.96 L303.14,330.80Z" fill="#1c1cc4"/>
<path d="M321.00,336.34 L323.16,338.50 L321.00,340.66 L318.84,338.50Z" fill="#1c1cc4"/>
<path d="M324.60,339.84 L326.76,342.00 L324.60,344.16 L322.44,342.00Z" fill="#1c1cc4"/>
<path d="M332.00,357.94 L334.16,360.10 L332.00,362.26 L329.84,360.10Z" fill="#1c1cc4"/>
<polyline points="231.50,313.50 262.00,311.50 292.10,319.20 305.30,327.60 321.00,335.60 324.60,340.00 332.00,349.30" fill="none" stroke="#1c1cc4" stroke-width="1.6" stroke-linejoin="round" />
<rect x="229.70" y="311.70" width="3.60" height="3.60" fill="#a8a8ec" stroke="#1c1cc4" stroke-width="1.2"/>
<rect x="260.20" y="309.70" width="3.60" height="3.60" fill="#a8a8ec" stroke="#1c1cc4" stroke-width="1.2"/>
<rect x="290.30" y="317.40" width="3.60" height="3.60" fill="#a8a8ec" stroke="#1c1cc4" stroke-width="1.2"/>
<rect x="303.50" y="325.80" width="3.60" height="3.60" fill="#a8a8ec" stroke="#1c1cc4" stroke-width="1.2"/>
<rect x="319.20" y="333.80" width="3.60" height="3.60" fill="#a8a8ec" stroke="#1c1cc4" stroke-width="1.2"/>
<rect x="322.80" y="338.20" width="3.60" height="3.60" fill="#a8a8ec" stroke="#1c1cc4" stroke-width="1.2"/>
<rect x="330.20" y="347.50" width="3.60" height="3.60" fill="#a8a8ec" stroke="#1c1cc4" stroke-width="1.2"/>
<polygon points="321.00,311.40 321.53,312.47 322.71,312.64 321.86,313.48 322.06,314.66 321.00,314.10 319.94,314.66 320.14,313.48 319.29,312.64 320.47,312.47" fill="#000" stroke="#000" stroke-width="0.3"/>
<polygon points="327.00,311.40 327.53,312.47 328.71,312.64 327.86,313.48 328.06,314.66 327.00,314.10 325.94,314.66 326.14,313.48 325.29,312.64 326.47,312.47" fill="#000" stroke="#000" stroke-width="0.3"/>
<polygon points="333.00,311.40 333.53,312.47 334.71,312.64 333.86,313.48 334.06,314.66 333.00,314.10 331.94,314.66 332.14,313.48 331.29,312.64 332.47,312.47" fill="#000" stroke="#000" stroke-width="0.3"/>
<line x1="229.80" y1="359.50" x2="240.00" y2="359.50" stroke="#1a8c2a" stroke-width="1.5" stroke-dasharray="2,1.2" />
<path d="M234.90,357.70 L236.70,360.94 L233.10,360.94Z" fill="#1a8c2a"/>
<text x="244.00" y="361.10" font-size="4.5" text-anchor="start" font-weight="bold" fill="#000" stroke="#000" stroke-width="0.14" >GAPDH</text>
<line x1="229.80" y1="366.20" x2="240.00" y2="366.20" stroke="#1a8c2a" stroke-width="1.5" />
<circle cx="234.90" cy="366.20" r="1.80" fill="#1a8c2a"/>
<text x="244.00" y="367.80" font-size="4.5" text-anchor="start" font-weight="bold" fill="#000" stroke="#000" stroke-width="0.14" >B-actin</text>
<line x1="229.80" y1="373.10" x2="240.00" y2="373.10" stroke="#e8605a" stroke-width="1.5" />
<path d="M234.90,371.30 L236.70,374.54 L233.10,374.54Z" fill="#e8605a"/>
<text x="244.00" y="374.70" font-size="4.5" text-anchor="start" font-weight="bold" fill="#000" stroke="#000" stroke-width="0.14" >TGF-b1</text>
<line x1="270.20" y1="359.50" x2="279.50" y2="359.50" stroke="#1c1cc4" stroke-width="1.5" />
<rect x="273.05" y="357.70" width="3.60" height="3.60" fill="#a8a8ec" stroke="#1c1cc4" stroke-width="1.2"/>
<text x="284.40" y="361.10" font-size="4.5" text-anchor="start" font-weight="bold" fill="#000" stroke="#000" stroke-width="0.14" >CD25</text>
<line x1="270.20" y1="366.20" x2="279.50" y2="366.20" stroke="#1c1cc4" stroke-width="1.5" />
<path d="M274.85,364.04 L277.01,366.20 L274.85,368.36 L272.69,366.20Z" fill="#1c1cc4"/>
<text x="284.40" y="367.80" font-size="4.5" text-anchor="start" font-weight="bold" fill="#000" stroke="#000" stroke-width="0.14" >HPRT-1</text>
<line x1="270.20" y1="373.10" x2="279.50" y2="373.10" stroke="#1c1cc4" stroke-width="1.5" stroke-dasharray="2,1.2" />
<path d="M274.85,371.30 L276.65,374.54 L273.05,374.54Z" fill="#1c1cc4"/>
<text x="284.40" y="374.70" font-size="4.5" text-anchor="start" font-weight="bold" fill="#000" stroke="#000" stroke-width="0.14" >Foxp3</text>
<text x="354.80" y="278.10" font-size="11.8" text-anchor="middle" font-weight="bold" fill="#000" stroke="#000" stroke-width="0.60" >G</text>
<line x1="376.20" y1="291.20" x2="376.20" y2="389.30" stroke="#000" stroke-width="1.3" />
<line x1="373.80" y1="291.70" x2="376.20" y2="291.70" stroke="#000" stroke-width="1.3" />
<text x="373.20" y="293.10" font-size="4.9" text-anchor="end" font-weight="bold" fill="#000" stroke="#000" stroke-width="0.22" textLength="15.5" lengthAdjust="spacingAndGlyphs">2.0×10<tspan font-size="3.2" dy="-1.6">0</tspan></text>
<line x1="373.80" y1="315.98" x2="376.20" y2="315.98" stroke="#000" stroke-width="1.3" />
<text x="373.20" y="317.38" font-size="4.9" text-anchor="end" font-weight="bold" fill="#000" stroke="#000" stroke-width="0.22" textLength="15.5" lengthAdjust="spacingAndGlyphs">1.0×10<tspan font-size="3.2" dy="-1.6">0</tspan></text>
<line x1="373.80" y1="340.26" x2="376.20" y2="340.26" stroke="#000" stroke-width="1.3" />
<text x="373.20" y="341.66" font-size="4.9" text-anchor="end" font-weight="bold" fill="#000" stroke="#000" stroke-width="0.22" textLength="15.5" lengthAdjust="spacingAndGlyphs">5.0×10<tspan font-size="3.2" dy="-1.6">-1</tspan></text>
<line x1="373.80" y1="364.54" x2="376.20" y2="364.54" stroke="#000" stroke-width="1.3" />
<text x="373.20" y="365.94" font-size="4.9" text-anchor="end" font-weight="bold" fill="#000" stroke="#000" stroke-width="0.22" textLength="15.5" lengthAdjust="spacingAndGlyphs">2.5×10<tspan font-size="3.2" dy="-1.6">-1</tspan></text>
<line x1="373.80" y1="388.82" x2="376.20" y2="388.82" stroke="#000" stroke-width="1.3" />
<text x="373.20" y="390.22" font-size="4.9" text-anchor="end" font-weight="bold" fill="#000" stroke="#000" stroke-width="0.22" textLength="15.5" lengthAdjust="spacingAndGlyphs">1.3×10<tspan font-size="3.2" dy="-1.6">-1</tspan></text>
<line x1="375.70" y1="388.80" x2="511.00" y2="388.80" stroke="#000" stroke-width="1.3" />
<line x1="376.90" y1="388.80" x2="376.90" y2="391.20" stroke="#000" stroke-width="1.3" />
<text x="376.90" y="396.20" font-size="5.4" text-anchor="middle" font-weight="bold" fill="#000" stroke="#000" stroke-width="0.24" >10</text>
<line x1="396.00" y1="388.80" x2="396.00" y2="391.20" stroke="#000" stroke-width="1.3" />
<text x="396.00" y="396.20" font-size="5.4" text-anchor="middle" font-weight="bold" fill="#000" stroke="#000" stroke-width="0.24" >9</text>
<line x1="415.10" y1="388.80" x2="415.10" y2="391.20" stroke="#000" stroke-width="1.3" />
<text x="415.10" y="396.20" font-size="5.4" text-anchor="middle" font-weight="bold" fill="#000" stroke="#000" stroke-width="0.24" >8</text>
<line x1="434.20" y1="388.80" x2="434.20" y2="391.20" stroke="#000" stroke-width="1.3" />
<text x="434.20" y="396.20" font-size="5.4" text-anchor="middle" font-weight="bold" fill="#000" stroke="#000" stroke-width="0.24" >7</text>
<line x1="453.30" y1="388.80" x2="453.30" y2="391.20" stroke="#000" stroke-width="1.3" />
<text x="453.30" y="396.20" font-size="5.4" text-anchor="middle" font-weight="bold" fill="#000" stroke="#000" stroke-width="0.24" >6</text>
<line x1="472.40" y1="388.80" x2="472.40" y2="391.20" stroke="#000" stroke-width="1.3" />
<text x="472.40" y="396.20" font-size="5.4" text-anchor="middle" font-weight="bold" fill="#000" stroke="#000" stroke-width="0.24" >5</text>
<line x1="491.50" y1="388.80" x2="491.50" y2="391.20" stroke="#000" stroke-width="1.3" />
<text x="491.50" y="396.20" font-size="5.4" text-anchor="middle" font-weight="bold" fill="#000" stroke="#000" stroke-width="0.24" >4</text>
<line x1="510.60" y1="388.80" x2="510.60" y2="391.20" stroke="#000" stroke-width="1.3" />
<text x="510.60" y="396.20" font-size="5.4" text-anchor="middle" font-weight="bold" fill="#000" stroke="#000" stroke-width="0.24" >3</text>
<text x="443.80" y="406.10" font-size="5.9" text-anchor="middle" font-weight="bold" fill="#000" stroke="#000" stroke-width="0.27" >RQI</text>
<text x="352.20" y="334.30" font-size="4.0" text-anchor="middle" font-weight="bold" fill="#000" stroke="#000" stroke-width="0.18" transform="rotate(-90 352.2 334.3)" textLength="17.5" lengthAdjust="spacingAndGlyphs">qPCR signal</text>
<text x="437.70" y="284.90" font-size="6.4" text-anchor="middle" font-weight="bold" fill="#000" stroke="#000" stroke-width="0.29" textLength="33.4" lengthAdjust="spacingAndGlyphs">microRNAs</text>
<polyline points="396.50,317.00 426.50,323.00 457.20,312.50 470.70,323.00 485.30,318.80 489.30,336.30 497.50,326.00" fill="none" stroke="#e87a7a" stroke-width="1.0" stroke-linejoin="round" stroke-dasharray="1.8,1.2" />
<path d="M396.50,315.80 L397.70,317.96 L395.30,317.96Z" fill="#fff" stroke="#e87a7a" stroke-width="0.9"/>
<path d="M426.50,321.80 L427.70,323.96 L425.30,323.96Z" fill="#fff" stroke="#e87a7a" stroke-width="0.9"/>
<path d="M457.20,311.30 L458.40,313.46 L456.00,313.46Z" fill="#fff" stroke="#e87a7a" stroke-width="0.9"/>
<path d="M470.70,321.80 L471.90,323.96 L469.50,323.96Z" fill="#fff" stroke="#e87a7a" stroke-width="0.9"/>
<path d="M485.30,317.60 L486.50,319.76 L484.10,319.76Z" fill="#fff" stroke="#e87a7a" stroke-width="0.9"/>
<path d="M489.30,335.10 L490.50,337.26 L488.10,337.26Z" fill="#fff" stroke="#e87a7a" stroke-width="0.9"/>
<path d="M497.50,324.80 L498.70,326.96 L496.30,326.96Z" fill="#fff" stroke="#e87a7a" stroke-width="0.9"/>
<polyline points="396.50,315.50 426.50,318.00 457.20,307.50 470.70,316.00 485.30,318.00 489.30,322.00 497.50,325.00" fill="none" stroke="#f2ad9c" stroke-width="1.0" stroke-linejoin="round" />
<path d="M396.50,314.30 L397.70,316.46 L395.30,316.46Z" fill="#f2ad9c"/>
<path d="M426.50,316.80 L427.70,318.96 L425.30,318.96Z" fill="#f2ad9c"/>
<path d="M457.20,306.30 L458.40,308.46 L456.00,308.46Z" fill="#f2ad9c"/>
<path d="M470.70,314.80 L471.90,316.96 L469.50,316.96Z" fill="#f2ad9c"/>
<path d="M485.30,316.80 L486.50,318.96 L484.10,318.96Z" fill="#f2ad9c"/>
<path d="M489.30,320.80 L490.50,322.96 L488.10,322.96Z" fill="#f2ad9c"/>
<path d="M497.50,323.80 L498.70,325.96 L496.30,325.96Z" fill="#f2ad9c"/>
<polyline points="396.50,315.00 426.50,317.50 457.20,307.80 470.70,313.80 485.30,309.50 489.30,318.00 497.50,325.00" fill="none" stroke="#e87a7a" stroke-width="1.0" stroke-linejoin="round" />
<path d="M396.50,313.56 L397.94,315.00 L396.50,316.44 L395.06,315.00Z" fill="#e87a7a"/>
<path d="M426.50,316.06 L427.94,317.50 L426.50,318.94 L425.06,317.50Z" fill="#e87a7a"/>
<path d="M457.20,306.36 L458.64,307.80 L457.20,309.24 L455.76,307.80Z" fill="#e87a7a"/>
<path d="M470.70,312.36 L472.14,313.80 L470.70,315.24 L469.26,313.80Z" fill="#e87a7a"/>
<path d="M485.30,308.06 L486.74,309.50 L485.30,310.94 L483.86,309.50Z" fill="#e87a7a"/>
<path d="M489.30,316.56 L490.74,318.00 L489.30,319.44 L487.86,318.00Z" fill="#e87a7a"/>
<path d="M497.50,323.56 L498.94,325.00 L497.50,326.44 L496.06,325.00Z" fill="#e87a7a"/>
<polyline points="396.50,314.00 426.50,316.00 457.20,308.00 470.70,316.00 485.30,314.00 489.30,314.00 497.50,313.80" fill="none" stroke="#8fb0ea" stroke-width="1.0" stroke-linejoin="round" />
<path d="M396.50,312.80 L397.70,314.96 L395.30,314.96Z" fill="#8fb0ea"/>
<path d="M426.50,314.80 L427.70,316.96 L425.30,316.96Z" fill="#8fb0ea"/>
<path d="M457.20,306.80 L458.40,308.96 L456.00,308.96Z" fill="#8fb0ea"/>
<path d="M470.70,314.80 L471.90,316.96 L469.50,316.96Z" fill="#8fb0ea"/>
<path d="M485.30,312.80 L486.50,314.96 L484.10,314.96Z" fill="#8fb0ea"/>
<path d="M489.30,312.80 L490.50,314.96 L488.10,314.96Z" fill="#8fb0ea"/>
<path d="M497.50,312.60 L498.70,314.76 L496.30,314.76Z" fill="#8fb0ea"/>
<polyline points="396.50,306.30 426.50,310.00 457.20,301.80 470.70,306.30 485.30,305.00 489.30,310.50 497.50,313.80" fill="none" stroke="#9cc0e6" stroke-width="1.0" stroke-linejoin="round" />
<path d="M396.50,305.10 L397.70,307.26 L395.30,307.26Z" fill="#9cc0e6"/>
<path d="M426.50,308.80 L427.70,310.96 L425.30,310.96Z" fill="#9cc0e6"/>
<path d="M457.20,300.60 L458.40,302.76 L456.00,302.76Z" fill="#9cc0e6"/>
<path d="M470.70,305.10 L471.90,307.26 L469.50,307.26Z" fill="#9cc0e6"/>
<path d="M485.30,303.80 L486.50,305.96 L484.10,305.96Z" fill="#9cc0e6"/>
<path d="M489.30,309.30 L490.50,311.46 L488.10,311.46Z" fill="#9cc0e6"/>
<path d="M497.50,312.60 L498.70,314.76 L496.30,314.76Z" fill="#9cc0e6"/>
<polyline points="396.50,312.00 426.50,317.00 457.20,307.50 470.70,317.50 485.30,314.50 489.30,332.50 497.50,323.00" fill="none" stroke="#34b04a" stroke-width="1.0" stroke-linejoin="round" />
<path d="M396.50,310.80 L397.70,312.96 L395.30,312.96Z" fill="#34b04a"/>
<path d="M426.50,315.80 L427.70,317.96 L425.30,317.96Z" fill="#34b04a"/>
<path d="M457.20,306.30 L458.40,308.46 L456.00,308.46Z" fill="#34b04a"/>
<path d="M470.70,316.30 L471.90,318.46 L469.50,318.46Z" fill="#34b04a"/>
<path d="M485.30,313.30 L486.50,315.46 L484.10,315.46Z" fill="#34b04a"/>
<path d="M489.30,331.30 L490.50,333.46 L488.10,333.46Z" fill="#34b04a"/>
<path d="M497.50,321.80 L498.70,323.96 L496.30,323.96Z" fill="#34b04a"/>
<polyline points="396.50,312.50 426.50,316.50 457.20,307.00 470.70,317.50 485.30,315.00 489.30,322.00 497.50,323.00" fill="none" stroke="#34b04a" stroke-width="1.0" stroke-linejoin="round" />
<rect x="395.20" y="311.20" width="2.60" height="2.60" fill="#34b04a"/>
<rect x="425.20" y="315.20" width="2.60" height="2.60" fill="#34b04a"/>
<rect x="455.90" y="305.70" width="2.60" height="2.60" fill="#34b04a"/>
<rect x="469.40" y="316.20" width="2.60" height="2.60" fill="#34b04a"/>
<rect x="484.00" y="313.70" width="2.60" height="2.60" fill="#34b04a"/>
<rect x="488.00" y="320.70" width="2.60" height="2.60" fill="#34b04a"/>
<rect x="496.20" y="321.70" width="2.60" height="2.60" fill="#34b04a"/>
<circle cx="490.00" cy="342.50" r="1.30" fill="#27b03a"/>
<circle cx="497.50" cy="332.50" r="1.30" fill="#27b03a"/>
<circle cx="504.50" cy="332.50" r="1.30" fill="#27b03a"/>
<circle cx="497.50" cy="339.50" r="1.30" fill="#27b03a"/>
<circle cx="504.50" cy="339.50" r="1.30" fill="#27b03a"/>
<line x1="398.70" y1="357.10" x2="409.10" y2="357.10" stroke="#27b03a" stroke-width="1.5" />
<path d="M403.90,355.50 L405.50,358.38 L402.30,358.38Z" fill="#27b03a"/>
<text x="412.90" y="358.70" font-size="4.5" text-anchor="start" font-weight="bold" fill="#000" stroke="#000" stroke-width="0.14" >SNORD38B</text>
<line x1="398.70" y1="363.50" x2="409.10" y2="363.50" stroke="#27b03a" stroke-width="1.5" stroke-dasharray="2,1.2" />
<circle cx="403.90" cy="363.50" r="2.00" fill="#9edc9e" stroke="#27b03a" stroke-width="1.3"/>
<text x="412.90" y="365.10" font-size="4.5" text-anchor="start" font-weight="bold" fill="#000" stroke="#000" stroke-width="0.14" >SNORD49A</text>
<line x1="398.70" y1="369.80" x2="409.10" y2="369.80" stroke="#27b03a" stroke-width="1.5" />
<circle cx="403.90" cy="369.80" r="2.00" fill="#27b03a"/>
<text x="412.90" y="371.40" font-size="4.5" text-anchor="start" font-weight="bold" fill="#000" stroke="#000" stroke-width="0.14" >miR-155</text>
<line x1="398.70" y1="376.00" x2="409.10" y2="376.00" stroke="#f2ad9c" stroke-width="1.5" />
<path d="M403.90,374.40 L405.50,377.28 L402.30,377.28Z" fill="#f2ad9c"/>
<text x="412.90" y="377.60" font-size="4.5" text-anchor="start" font-weight="bold" fill="#000" stroke="#000" stroke-width="0.14" >miR-191</text>
<line x1="449.60" y1="357.10" x2="460.00" y2="357.10" stroke="#e87a7a" stroke-width="1.5" />
<path d="M454.80,355.18 L456.72,357.10 L454.80,359.02 L452.88,357.10Z" fill="#e87a7a"/>
<text x="463.80" y="358.70" font-size="4.5" text-anchor="start" font-weight="bold" fill="#000" stroke="#000" stroke-width="0.14" >miR-103</text>
<line x1="449.60" y1="363.50" x2="460.00" y2="363.50" stroke="#e87a7a" stroke-width="1.5" stroke-dasharray="1.8,1.2" />
<path d="M454.80,361.90 L456.40,364.78 L453.20,364.78Z" fill="#fff" stroke="#e87a7a" stroke-width="0.9"/>
<text x="463.80" y="365.10" font-size="4.5" text-anchor="start" font-weight="bold" fill="#000" stroke="#000" stroke-width="0.14" >miR-142-5p</text>
<line x1="449.60" y1="370.20" x2="460.00" y2="370.20" stroke="#9cc0e6" stroke-width="1.5" />
<path d="M454.80,368.60 L456.40,371.48 L453.20,371.48Z" fill="#9cc0e6"/>
<text x="463.80" y="371.80" font-size="4.5" text-anchor="start" font-weight="bold" fill="#000" stroke="#000" stroke-width="0.14" >miR-223</text>
<line x1="449.60" y1="376.00" x2="460.00" y2="376.00" stroke="#8fb0ea" stroke-width="1.5" />
<path d="M454.80,374.40 L456.40,377.28 L453.20,377.28Z" fill="#8fb0ea"/>
<text x="463.80" y="377.60" font-size="4.5" text-anchor="start" font-weight="bold" fill="#000" stroke="#000" stroke-width="0.14" >miR-26b</text>
</svg></body></html>
